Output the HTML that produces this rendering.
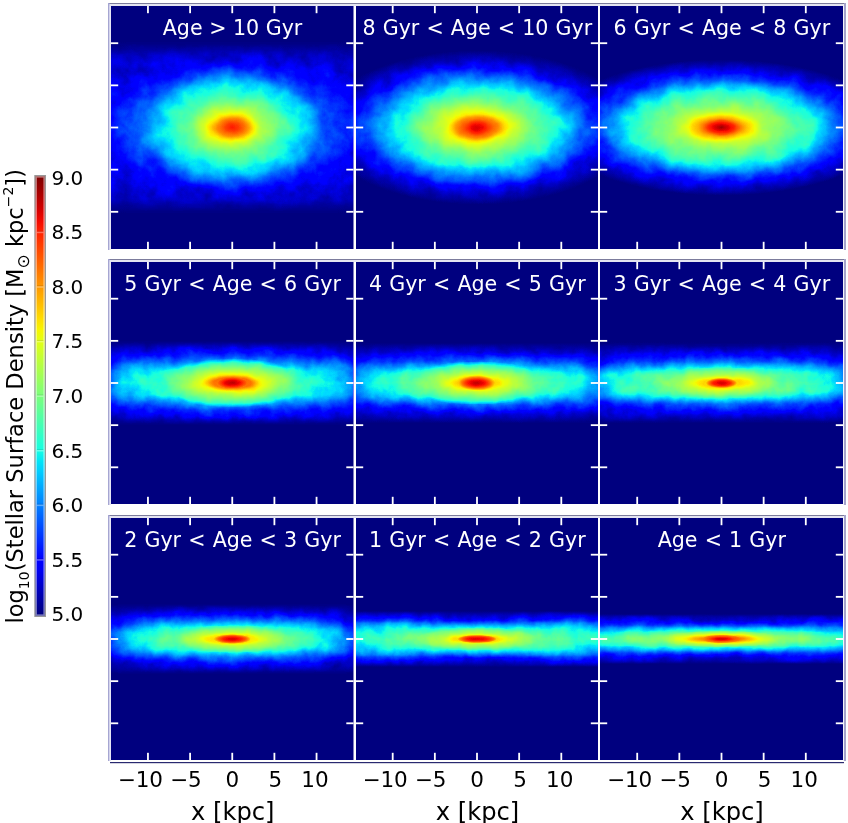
<!DOCTYPE html>
<html><head><meta charset="utf-8"><style>
html,body{margin:0;padding:0;background:#fff;}
svg{display:block;}
text{font-family:"DejaVu Sans","Liberation Sans",sans-serif;}
.t{fill:#fff;font-size:20.6px;text-anchor:middle;}
.tk{fill:#000;font-size:21.5px;text-anchor:middle;}
.xl{fill:#000;font-size:24.2px;text-anchor:middle;}
.cb{fill:#000;font-size:20px;}
.yl{fill:#000;font-size:22.55px;}
</style></head><body>
<svg width="848" height="823" viewBox="0 0 848 823">
<defs><linearGradient id="fx0_0" gradientUnits="userSpaceOnUse" x1="92.25" y1="0" x2="372.25" y2="0"><stop offset="0.0179" stop-color="#1a0000"/><stop offset="0.0679" stop-color="#1c0000"/><stop offset="0.1071" stop-color="#1f0000"/><stop offset="0.2857" stop-color="#260000"/><stop offset="0.5000" stop-color="#290000"/><stop offset="0.7143" stop-color="#260000"/><stop offset="0.8929" stop-color="#1f0000"/><stop offset="0.9321" stop-color="#1c0000"/><stop offset="0.9821" stop-color="#1a0000"/></linearGradient>
<linearGradient id="qz0_0" gradientUnits="userSpaceOnUse" x1="0" y1="-12.50" x2="0" y2="267.50"><stop offset="0.1929" stop-color="#000000"/><stop offset="0.2036" stop-color="#000d00"/><stop offset="0.2214" stop-color="#003300"/><stop offset="0.2429" stop-color="#007300"/><stop offset="0.2679" stop-color="#009900"/><stop offset="0.3036" stop-color="#00bf00"/><stop offset="0.3571" stop-color="#00e600"/><stop offset="0.5000" stop-color="#00ff00"/><stop offset="0.6429" stop-color="#00e600"/><stop offset="0.6964" stop-color="#00bf00"/><stop offset="0.7321" stop-color="#009900"/><stop offset="0.7571" stop-color="#007300"/><stop offset="0.7786" stop-color="#003300"/><stop offset="0.7964" stop-color="#000d00"/><stop offset="0.8071" stop-color="#000000"/></linearGradient>
<filter id="dk0_0" filterUnits="userSpaceOnUse" x="111.00" y="6.00" width="242.50" height="243.00" color-interpolation-filters="sRGB"><feColorMatrix in="SourceGraphic" type="matrix" values="1 0 0 0 0 1 0 0 0 0 1 0 0 0 0 0 0 0 0 1" result="F"/><feColorMatrix in="SourceGraphic" type="matrix" values="0 1 0 0 0 0 1 0 0 0 0 1 0 0 0 0 0 0 0 1" result="Q"/><feComposite operator="arithmetic" in="F" in2="Q" k1="1.0000" k2="0.0000" k3="0.0000" k4="0.0000"/></filter>
<radialGradient id="e0_1" gradientUnits="userSpaceOnUse" cx="232.25" cy="127.50" r="130.00" gradientTransform="translate(232.25 127.50) scale(1 0.6000) translate(-232.25 -127.50)"><stop offset="0.0000" stop-color="#e0e0e0"/><stop offset="0.0500" stop-color="#d6d6d6"/><stop offset="0.1154" stop-color="#c2c2c2"/><stop offset="0.1615" stop-color="#ababab"/><stop offset="0.2154" stop-color="#999999"/><stop offset="0.3077" stop-color="#808080"/><stop offset="0.4077" stop-color="#6e6e6e"/><stop offset="0.5000" stop-color="#606060"/><stop offset="0.6154" stop-color="#4c4c4c"/><stop offset="0.7154" stop-color="#333333"/><stop offset="0.8077" stop-color="#1f1f1f"/><stop offset="0.9231" stop-color="#0d0d0d"/><stop offset="1.0000" stop-color="#000000"/></radialGradient>
<radialGradient id="e0_2" gradientUnits="userSpaceOnUse" cx="232.25" cy="127.50" r="170.00" gradientTransform="translate(232.25 127.50) scale(1 0.4500) translate(-232.25 -127.50)"><stop offset="0.0000" stop-color="#404040"/><stop offset="0.5471" stop-color="#383838"/><stop offset="0.7118" stop-color="#262626"/><stop offset="0.8235" stop-color="#141414"/><stop offset="1.0000" stop-color="#000000"/></radialGradient>
<filter id="jet0" filterUnits="userSpaceOnUse" x="111.00" y="6.00" width="242.50" height="243.00" color-interpolation-filters="sRGB">
<feTurbulence type="fractalNoise" baseFrequency="0.060" numOctaves="4" seed="3" result="tn"/>
<feColorMatrix in="tn" type="matrix" values="1 0 0 0 0 1 0 0 0 0 1 0 0 0 0 0 0 0 0 1" result="n"/>
<feComponentTransfer in="SourceGraphic" result="mask"><feFuncR type="table" tableValues="0 1 1 1 1 0.85 0.7 0.55 0.45 0.35 0.3 0.3"/><feFuncG type="table" tableValues="0 1 1 1 1 0.85 0.7 0.55 0.45 0.35 0.3 0.3"/><feFuncB type="table" tableValues="0 1 1 1 1 0.85 0.7 0.55 0.45 0.35 0.3 0.3"/></feComponentTransfer>
<feComposite operator="arithmetic" in="mask" in2="n" k1="1" k2="-0.5" k3="0" k4="0.5" result="mkn"/>
<feComposite operator="arithmetic" in="SourceGraphic" in2="mkn" k1="0" k2="1" k3="0.130" k4="-0.065" result="mn"/>
<feComponentTransfer in="mn"><feFuncR type="table" tableValues="0.0000 0.0000 0.0000 0.0000 0.0000 0.0000 0.0000 0.0000 0.0000 0.0000 0.0000 0.0000 0.0000 0.0000 0.0000 0.0000 0.0000 0.0000 0.0000 0.0000 0.0000 0.0000 0.0000 0.0000 0.0000 0.0000 0.0000 0.0000 0.0000 0.0000 0.0000 0.0000 0.0000 0.0000 0.0000 0.0000 0.0000 0.0000 0.0000 0.0000 0.0000 0.0000 0.0000 0.0000 0.0000 0.0000 0.0000 0.0000 0.0000 0.0000 0.0000 0.0000 0.0000 0.0000 0.0000 0.0000 0.0000 0.0000 0.0000 0.0000 0.0000 0.0000 0.0000 0.0000 0.0000 0.0000 0.0000 0.0000 0.0000 0.0000 0.0000 0.0161 0.0323 0.0484 0.0645 0.0806 0.0968 0.1129 0.1290 0.1452 0.1613 0.1774 0.1935 0.2097 0.2258 0.2419 0.2581 0.2742 0.2903 0.3065 0.3226 0.3387 0.3548 0.3710 0.3871 0.4032 0.4194 0.4355 0.4516 0.4677 0.4839 0.5000 0.5161 0.5323 0.5484 0.5645 0.5806 0.5968 0.6129 0.6290 0.6452 0.6613 0.6774 0.6935 0.7097 0.7258 0.7419 0.7581 0.7742 0.7903 0.8065 0.8226 0.8387 0.8548 0.8710 0.8871 0.9032 0.9194 0.9355 0.9516 0.9677 0.9839 1.0000 1.0000 1.0000 1.0000 1.0000 1.0000 1.0000 1.0000 1.0000 1.0000 1.0000 1.0000 1.0000 1.0000 1.0000 1.0000 1.0000 1.0000 1.0000 1.0000 1.0000 1.0000 1.0000 1.0000 1.0000 1.0000 1.0000 1.0000 1.0000 1.0000 1.0000 1.0000 1.0000 1.0000 1.0000 1.0000 1.0000 1.0000 1.0000 1.0000 1.0000 1.0000 1.0000 1.0000 1.0000 1.0000 1.0000 0.9773 0.9545 0.9318 0.9091 0.8864 0.8636 0.8409 0.8182 0.7955 0.7727 0.7500 0.7273 0.7045 0.6818 0.6591 0.6364 0.6136 0.5909 0.5682 0.5455 0.5227 0.5000"/><feFuncG type="table" tableValues="0.0000 0.0000 0.0000 0.0000 0.0000 0.0000 0.0000 0.0000 0.0000 0.0000 0.0000 0.0000 0.0000 0.0000 0.0000 0.0000 0.0000 0.0000 0.0000 0.0000 0.0000 0.0000 0.0000 0.0000 0.0000 0.0000 0.0200 0.0400 0.0600 0.0800 0.1000 0.1200 0.1400 0.1600 0.1800 0.2000 0.2200 0.2400 0.2600 0.2800 0.3000 0.3200 0.3400 0.3600 0.3800 0.4000 0.4200 0.4400 0.4600 0.4800 0.5000 0.5200 0.5400 0.5600 0.5800 0.6000 0.6200 0.6400 0.6600 0.6800 0.7000 0.7200 0.7400 0.7600 0.7800 0.8000 0.8200 0.8400 0.8600 0.8800 0.9000 0.9200 0.9400 0.9600 0.9800 1.0000 1.0000 1.0000 1.0000 1.0000 1.0000 1.0000 1.0000 1.0000 1.0000 1.0000 1.0000 1.0000 1.0000 1.0000 1.0000 1.0000 1.0000 1.0000 1.0000 1.0000 1.0000 1.0000 1.0000 1.0000 1.0000 1.0000 1.0000 1.0000 1.0000 1.0000 1.0000 1.0000 1.0000 1.0000 1.0000 1.0000 1.0000 1.0000 1.0000 1.0000 1.0000 1.0000 1.0000 1.0000 1.0000 1.0000 1.0000 1.0000 1.0000 1.0000 1.0000 1.0000 1.0000 0.9815 0.9630 0.9444 0.9259 0.9074 0.8889 0.8704 0.8519 0.8333 0.8148 0.7963 0.7778 0.7593 0.7407 0.7222 0.7037 0.6852 0.6667 0.6481 0.6296 0.6111 0.5926 0.5741 0.5556 0.5370 0.5185 0.5000 0.4815 0.4630 0.4444 0.4259 0.4074 0.3889 0.3704 0.3519 0.3333 0.3148 0.2963 0.2778 0.2593 0.2407 0.2222 0.2037 0.1852 0.1667 0.1481 0.1296 0.1111 0.0926 0.0741 0.0556 0.0370 0.0185 0.0000 0.0000 0.0000 0.0000 0.0000 0.0000 0.0000 0.0000 0.0000 0.0000 0.0000 0.0000 0.0000 0.0000 0.0000 0.0000 0.0000 0.0000 0.0000"/><feFuncB type="table" tableValues="0.5000 0.5227 0.5455 0.5682 0.5909 0.6136 0.6364 0.6591 0.6818 0.7045 0.7273 0.7500 0.7727 0.7955 0.8182 0.8409 0.8636 0.8864 0.9091 0.9318 0.9545 0.9773 1.0000 1.0000 1.0000 1.0000 1.0000 1.0000 1.0000 1.0000 1.0000 1.0000 1.0000 1.0000 1.0000 1.0000 1.0000 1.0000 1.0000 1.0000 1.0000 1.0000 1.0000 1.0000 1.0000 1.0000 1.0000 1.0000 1.0000 1.0000 1.0000 1.0000 1.0000 1.0000 1.0000 1.0000 1.0000 1.0000 1.0000 1.0000 1.0000 1.0000 1.0000 1.0000 1.0000 1.0000 1.0000 1.0000 1.0000 0.9839 0.9677 0.9516 0.9355 0.9194 0.9032 0.8871 0.8710 0.8548 0.8387 0.8226 0.8065 0.7903 0.7742 0.7581 0.7419 0.7258 0.7097 0.6935 0.6774 0.6613 0.6452 0.6290 0.6129 0.5968 0.5806 0.5645 0.5484 0.5323 0.5161 0.5000 0.4839 0.4677 0.4516 0.4355 0.4194 0.4032 0.3871 0.3710 0.3548 0.3387 0.3226 0.3065 0.2903 0.2742 0.2581 0.2419 0.2258 0.2097 0.1935 0.1774 0.1613 0.1452 0.1290 0.1129 0.0968 0.0806 0.0645 0.0484 0.0323 0.0161 0.0000 0.0000 0.0000 0.0000 0.0000 0.0000 0.0000 0.0000 0.0000 0.0000 0.0000 0.0000 0.0000 0.0000 0.0000 0.0000 0.0000 0.0000 0.0000 0.0000 0.0000 0.0000 0.0000 0.0000 0.0000 0.0000 0.0000 0.0000 0.0000 0.0000 0.0000 0.0000 0.0000 0.0000 0.0000 0.0000 0.0000 0.0000 0.0000 0.0000 0.0000 0.0000 0.0000 0.0000 0.0000 0.0000 0.0000 0.0000 0.0000 0.0000 0.0000 0.0000 0.0000 0.0000 0.0000 0.0000 0.0000 0.0000 0.0000 0.0000 0.0000 0.0000 0.0000 0.0000 0.0000 0.0000 0.0000 0.0000 0.0000 0.0000 0.0000"/><feFuncA type="identity"/></feComponentTransfer>
</filter>
<radialGradient id="e1_0" gradientUnits="userSpaceOnUse" cx="477.00" cy="127.50" r="157.00" gradientTransform="translate(477.00 127.50) scale(1 0.4900) translate(-477.00 -127.50)"><stop offset="0.0000" stop-color="#ebebeb"/><stop offset="0.0541" stop-color="#e0e0e0"/><stop offset="0.0892" stop-color="#d1d1d1"/><stop offset="0.1338" stop-color="#c2c2c2"/><stop offset="0.1783" stop-color="#a8a8a8"/><stop offset="0.2548" stop-color="#949494"/><stop offset="0.3376" stop-color="#808080"/><stop offset="0.4268" stop-color="#6e6e6e"/><stop offset="0.5096" stop-color="#606060"/><stop offset="0.5924" stop-color="#4c4c4c"/><stop offset="0.7006" stop-color="#333333"/><stop offset="0.7771" stop-color="#1f1f1f"/><stop offset="0.8917" stop-color="#0d0d0d"/><stop offset="1.0000" stop-color="#000000"/></radialGradient>
<radialGradient id="e1_1" gradientUnits="userSpaceOnUse" cx="477.00" cy="127.50" r="30.00" gradientTransform="translate(477.00 127.50) scale(1 0.6000) translate(-477.00 -127.50)"><stop offset="0.0000" stop-color="#ebebeb"/><stop offset="0.2000" stop-color="#e6e6e6"/><stop offset="0.3333" stop-color="#dbdbdb"/><stop offset="0.4667" stop-color="#cccccc"/><stop offset="0.6667" stop-color="#999999"/><stop offset="1.0000" stop-color="#000000"/></radialGradient>
<radialGradient id="e1_2" gradientUnits="userSpaceOnUse" cx="477.00" cy="127.50" r="170.00" gradientTransform="translate(477.00 127.50) scale(1 0.4000) translate(-477.00 -127.50)"><stop offset="0.0000" stop-color="#333333"/><stop offset="0.6471" stop-color="#303030"/><stop offset="0.7118" stop-color="#292929"/><stop offset="0.8235" stop-color="#141414"/><stop offset="1.0000" stop-color="#000000"/></radialGradient>
<filter id="jet1" filterUnits="userSpaceOnUse" x="356.00" y="6.00" width="242.00" height="243.00" color-interpolation-filters="sRGB">
<feTurbulence type="fractalNoise" baseFrequency="0.060" numOctaves="4" seed="4" result="tn"/>
<feColorMatrix in="tn" type="matrix" values="1 0 0 0 0 1 0 0 0 0 1 0 0 0 0 0 0 0 0 1" result="n"/>
<feComponentTransfer in="SourceGraphic" result="mask"><feFuncR type="table" tableValues="0 1 1 1 1 0.85 0.7 0.55 0.45 0.35 0.3 0.3"/><feFuncG type="table" tableValues="0 1 1 1 1 0.85 0.7 0.55 0.45 0.35 0.3 0.3"/><feFuncB type="table" tableValues="0 1 1 1 1 0.85 0.7 0.55 0.45 0.35 0.3 0.3"/></feComponentTransfer>
<feComposite operator="arithmetic" in="mask" in2="n" k1="1" k2="-0.5" k3="0" k4="0.5" result="mkn"/>
<feComposite operator="arithmetic" in="SourceGraphic" in2="mkn" k1="0" k2="1" k3="0.130" k4="-0.065" result="mn"/>
<feComponentTransfer in="mn"><feFuncR type="table" tableValues="0.0000 0.0000 0.0000 0.0000 0.0000 0.0000 0.0000 0.0000 0.0000 0.0000 0.0000 0.0000 0.0000 0.0000 0.0000 0.0000 0.0000 0.0000 0.0000 0.0000 0.0000 0.0000 0.0000 0.0000 0.0000 0.0000 0.0000 0.0000 0.0000 0.0000 0.0000 0.0000 0.0000 0.0000 0.0000 0.0000 0.0000 0.0000 0.0000 0.0000 0.0000 0.0000 0.0000 0.0000 0.0000 0.0000 0.0000 0.0000 0.0000 0.0000 0.0000 0.0000 0.0000 0.0000 0.0000 0.0000 0.0000 0.0000 0.0000 0.0000 0.0000 0.0000 0.0000 0.0000 0.0000 0.0000 0.0000 0.0000 0.0000 0.0000 0.0000 0.0161 0.0323 0.0484 0.0645 0.0806 0.0968 0.1129 0.1290 0.1452 0.1613 0.1774 0.1935 0.2097 0.2258 0.2419 0.2581 0.2742 0.2903 0.3065 0.3226 0.3387 0.3548 0.3710 0.3871 0.4032 0.4194 0.4355 0.4516 0.4677 0.4839 0.5000 0.5161 0.5323 0.5484 0.5645 0.5806 0.5968 0.6129 0.6290 0.6452 0.6613 0.6774 0.6935 0.7097 0.7258 0.7419 0.7581 0.7742 0.7903 0.8065 0.8226 0.8387 0.8548 0.8710 0.8871 0.9032 0.9194 0.9355 0.9516 0.9677 0.9839 1.0000 1.0000 1.0000 1.0000 1.0000 1.0000 1.0000 1.0000 1.0000 1.0000 1.0000 1.0000 1.0000 1.0000 1.0000 1.0000 1.0000 1.0000 1.0000 1.0000 1.0000 1.0000 1.0000 1.0000 1.0000 1.0000 1.0000 1.0000 1.0000 1.0000 1.0000 1.0000 1.0000 1.0000 1.0000 1.0000 1.0000 1.0000 1.0000 1.0000 1.0000 1.0000 1.0000 1.0000 1.0000 1.0000 1.0000 0.9773 0.9545 0.9318 0.9091 0.8864 0.8636 0.8409 0.8182 0.7955 0.7727 0.7500 0.7273 0.7045 0.6818 0.6591 0.6364 0.6136 0.5909 0.5682 0.5455 0.5227 0.5000"/><feFuncG type="table" tableValues="0.0000 0.0000 0.0000 0.0000 0.0000 0.0000 0.0000 0.0000 0.0000 0.0000 0.0000 0.0000 0.0000 0.0000 0.0000 0.0000 0.0000 0.0000 0.0000 0.0000 0.0000 0.0000 0.0000 0.0000 0.0000 0.0000 0.0200 0.0400 0.0600 0.0800 0.1000 0.1200 0.1400 0.1600 0.1800 0.2000 0.2200 0.2400 0.2600 0.2800 0.3000 0.3200 0.3400 0.3600 0.3800 0.4000 0.4200 0.4400 0.4600 0.4800 0.5000 0.5200 0.5400 0.5600 0.5800 0.6000 0.6200 0.6400 0.6600 0.6800 0.7000 0.7200 0.7400 0.7600 0.7800 0.8000 0.8200 0.8400 0.8600 0.8800 0.9000 0.9200 0.9400 0.9600 0.9800 1.0000 1.0000 1.0000 1.0000 1.0000 1.0000 1.0000 1.0000 1.0000 1.0000 1.0000 1.0000 1.0000 1.0000 1.0000 1.0000 1.0000 1.0000 1.0000 1.0000 1.0000 1.0000 1.0000 1.0000 1.0000 1.0000 1.0000 1.0000 1.0000 1.0000 1.0000 1.0000 1.0000 1.0000 1.0000 1.0000 1.0000 1.0000 1.0000 1.0000 1.0000 1.0000 1.0000 1.0000 1.0000 1.0000 1.0000 1.0000 1.0000 1.0000 1.0000 1.0000 1.0000 1.0000 0.9815 0.9630 0.9444 0.9259 0.9074 0.8889 0.8704 0.8519 0.8333 0.8148 0.7963 0.7778 0.7593 0.7407 0.7222 0.7037 0.6852 0.6667 0.6481 0.6296 0.6111 0.5926 0.5741 0.5556 0.5370 0.5185 0.5000 0.4815 0.4630 0.4444 0.4259 0.4074 0.3889 0.3704 0.3519 0.3333 0.3148 0.2963 0.2778 0.2593 0.2407 0.2222 0.2037 0.1852 0.1667 0.1481 0.1296 0.1111 0.0926 0.0741 0.0556 0.0370 0.0185 0.0000 0.0000 0.0000 0.0000 0.0000 0.0000 0.0000 0.0000 0.0000 0.0000 0.0000 0.0000 0.0000 0.0000 0.0000 0.0000 0.0000 0.0000 0.0000"/><feFuncB type="table" tableValues="0.5000 0.5227 0.5455 0.5682 0.5909 0.6136 0.6364 0.6591 0.6818 0.7045 0.7273 0.7500 0.7727 0.7955 0.8182 0.8409 0.8636 0.8864 0.9091 0.9318 0.9545 0.9773 1.0000 1.0000 1.0000 1.0000 1.0000 1.0000 1.0000 1.0000 1.0000 1.0000 1.0000 1.0000 1.0000 1.0000 1.0000 1.0000 1.0000 1.0000 1.0000 1.0000 1.0000 1.0000 1.0000 1.0000 1.0000 1.0000 1.0000 1.0000 1.0000 1.0000 1.0000 1.0000 1.0000 1.0000 1.0000 1.0000 1.0000 1.0000 1.0000 1.0000 1.0000 1.0000 1.0000 1.0000 1.0000 1.0000 1.0000 0.9839 0.9677 0.9516 0.9355 0.9194 0.9032 0.8871 0.8710 0.8548 0.8387 0.8226 0.8065 0.7903 0.7742 0.7581 0.7419 0.7258 0.7097 0.6935 0.6774 0.6613 0.6452 0.6290 0.6129 0.5968 0.5806 0.5645 0.5484 0.5323 0.5161 0.5000 0.4839 0.4677 0.4516 0.4355 0.4194 0.4032 0.3871 0.3710 0.3548 0.3387 0.3226 0.3065 0.2903 0.2742 0.2581 0.2419 0.2258 0.2097 0.1935 0.1774 0.1613 0.1452 0.1290 0.1129 0.0968 0.0806 0.0645 0.0484 0.0323 0.0161 0.0000 0.0000 0.0000 0.0000 0.0000 0.0000 0.0000 0.0000 0.0000 0.0000 0.0000 0.0000 0.0000 0.0000 0.0000 0.0000 0.0000 0.0000 0.0000 0.0000 0.0000 0.0000 0.0000 0.0000 0.0000 0.0000 0.0000 0.0000 0.0000 0.0000 0.0000 0.0000 0.0000 0.0000 0.0000 0.0000 0.0000 0.0000 0.0000 0.0000 0.0000 0.0000 0.0000 0.0000 0.0000 0.0000 0.0000 0.0000 0.0000 0.0000 0.0000 0.0000 0.0000 0.0000 0.0000 0.0000 0.0000 0.0000 0.0000 0.0000 0.0000 0.0000 0.0000 0.0000 0.0000 0.0000 0.0000 0.0000 0.0000 0.0000 0.0000"/><feFuncA type="identity"/></feComponentTransfer>
</filter>
<radialGradient id="e2_0" gradientUnits="userSpaceOnUse" cx="721.50" cy="127.50" r="170.00" gradientTransform="translate(721.50 127.50) scale(1 0.4000) translate(-721.50 -127.50)"><stop offset="0.0000" stop-color="#f7f7f7"/><stop offset="0.0253" stop-color="#ededed"/><stop offset="0.0765" stop-color="#dedede"/><stop offset="0.1118" stop-color="#c7c7c7"/><stop offset="0.1412" stop-color="#b8b8b8"/><stop offset="0.1824" stop-color="#a8a8a8"/><stop offset="0.2412" stop-color="#949494"/><stop offset="0.3529" stop-color="#808080"/><stop offset="0.4647" stop-color="#6e6e6e"/><stop offset="0.5471" stop-color="#606060"/><stop offset="0.6235" stop-color="#4c4c4c"/><stop offset="0.7118" stop-color="#333333"/><stop offset="0.8059" stop-color="#1f1f1f"/><stop offset="0.9118" stop-color="#0d0d0d"/><stop offset="1.0000" stop-color="#000000"/></radialGradient>
<radialGradient id="e2_1" gradientUnits="userSpaceOnUse" cx="721.50" cy="127.50" r="32.00" gradientTransform="translate(721.50 127.50) scale(1 0.5500) translate(-721.50 -127.50)"><stop offset="0.0000" stop-color="#f7f7f7"/><stop offset="0.1250" stop-color="#ededed"/><stop offset="0.2500" stop-color="#e0e0e0"/><stop offset="0.4062" stop-color="#d1d1d1"/><stop offset="0.5625" stop-color="#b2b2b2"/><stop offset="0.7812" stop-color="#666666"/><stop offset="1.0000" stop-color="#000000"/></radialGradient>
<radialGradient id="e2_2" gradientUnits="userSpaceOnUse" cx="721.50" cy="127.50" r="175.00" gradientTransform="translate(721.50 127.50) scale(1 0.3500) translate(-721.50 -127.50)"><stop offset="0.0000" stop-color="#404040"/><stop offset="0.6286" stop-color="#3b3b3b"/><stop offset="0.6914" stop-color="#333333"/><stop offset="0.8000" stop-color="#1a1a1a"/><stop offset="1.0000" stop-color="#000000"/></radialGradient>
<filter id="jet2" filterUnits="userSpaceOnUse" x="600.00" y="6.00" width="243.00" height="243.00" color-interpolation-filters="sRGB">
<feTurbulence type="fractalNoise" baseFrequency="0.060" numOctaves="4" seed="5" result="tn"/>
<feColorMatrix in="tn" type="matrix" values="1 0 0 0 0 1 0 0 0 0 1 0 0 0 0 0 0 0 0 1" result="n"/>
<feComponentTransfer in="SourceGraphic" result="mask"><feFuncR type="table" tableValues="0 1 1 1 1 0.85 0.7 0.55 0.45 0.35 0.3 0.3"/><feFuncG type="table" tableValues="0 1 1 1 1 0.85 0.7 0.55 0.45 0.35 0.3 0.3"/><feFuncB type="table" tableValues="0 1 1 1 1 0.85 0.7 0.55 0.45 0.35 0.3 0.3"/></feComponentTransfer>
<feComposite operator="arithmetic" in="mask" in2="n" k1="1" k2="-0.5" k3="0" k4="0.5" result="mkn"/>
<feComposite operator="arithmetic" in="SourceGraphic" in2="mkn" k1="0" k2="1" k3="0.130" k4="-0.065" result="mn"/>
<feComponentTransfer in="mn"><feFuncR type="table" tableValues="0.0000 0.0000 0.0000 0.0000 0.0000 0.0000 0.0000 0.0000 0.0000 0.0000 0.0000 0.0000 0.0000 0.0000 0.0000 0.0000 0.0000 0.0000 0.0000 0.0000 0.0000 0.0000 0.0000 0.0000 0.0000 0.0000 0.0000 0.0000 0.0000 0.0000 0.0000 0.0000 0.0000 0.0000 0.0000 0.0000 0.0000 0.0000 0.0000 0.0000 0.0000 0.0000 0.0000 0.0000 0.0000 0.0000 0.0000 0.0000 0.0000 0.0000 0.0000 0.0000 0.0000 0.0000 0.0000 0.0000 0.0000 0.0000 0.0000 0.0000 0.0000 0.0000 0.0000 0.0000 0.0000 0.0000 0.0000 0.0000 0.0000 0.0000 0.0000 0.0161 0.0323 0.0484 0.0645 0.0806 0.0968 0.1129 0.1290 0.1452 0.1613 0.1774 0.1935 0.2097 0.2258 0.2419 0.2581 0.2742 0.2903 0.3065 0.3226 0.3387 0.3548 0.3710 0.3871 0.4032 0.4194 0.4355 0.4516 0.4677 0.4839 0.5000 0.5161 0.5323 0.5484 0.5645 0.5806 0.5968 0.6129 0.6290 0.6452 0.6613 0.6774 0.6935 0.7097 0.7258 0.7419 0.7581 0.7742 0.7903 0.8065 0.8226 0.8387 0.8548 0.8710 0.8871 0.9032 0.9194 0.9355 0.9516 0.9677 0.9839 1.0000 1.0000 1.0000 1.0000 1.0000 1.0000 1.0000 1.0000 1.0000 1.0000 1.0000 1.0000 1.0000 1.0000 1.0000 1.0000 1.0000 1.0000 1.0000 1.0000 1.0000 1.0000 1.0000 1.0000 1.0000 1.0000 1.0000 1.0000 1.0000 1.0000 1.0000 1.0000 1.0000 1.0000 1.0000 1.0000 1.0000 1.0000 1.0000 1.0000 1.0000 1.0000 1.0000 1.0000 1.0000 1.0000 1.0000 0.9773 0.9545 0.9318 0.9091 0.8864 0.8636 0.8409 0.8182 0.7955 0.7727 0.7500 0.7273 0.7045 0.6818 0.6591 0.6364 0.6136 0.5909 0.5682 0.5455 0.5227 0.5000"/><feFuncG type="table" tableValues="0.0000 0.0000 0.0000 0.0000 0.0000 0.0000 0.0000 0.0000 0.0000 0.0000 0.0000 0.0000 0.0000 0.0000 0.0000 0.0000 0.0000 0.0000 0.0000 0.0000 0.0000 0.0000 0.0000 0.0000 0.0000 0.0000 0.0200 0.0400 0.0600 0.0800 0.1000 0.1200 0.1400 0.1600 0.1800 0.2000 0.2200 0.2400 0.2600 0.2800 0.3000 0.3200 0.3400 0.3600 0.3800 0.4000 0.4200 0.4400 0.4600 0.4800 0.5000 0.5200 0.5400 0.5600 0.5800 0.6000 0.6200 0.6400 0.6600 0.6800 0.7000 0.7200 0.7400 0.7600 0.7800 0.8000 0.8200 0.8400 0.8600 0.8800 0.9000 0.9200 0.9400 0.9600 0.9800 1.0000 1.0000 1.0000 1.0000 1.0000 1.0000 1.0000 1.0000 1.0000 1.0000 1.0000 1.0000 1.0000 1.0000 1.0000 1.0000 1.0000 1.0000 1.0000 1.0000 1.0000 1.0000 1.0000 1.0000 1.0000 1.0000 1.0000 1.0000 1.0000 1.0000 1.0000 1.0000 1.0000 1.0000 1.0000 1.0000 1.0000 1.0000 1.0000 1.0000 1.0000 1.0000 1.0000 1.0000 1.0000 1.0000 1.0000 1.0000 1.0000 1.0000 1.0000 1.0000 1.0000 1.0000 0.9815 0.9630 0.9444 0.9259 0.9074 0.8889 0.8704 0.8519 0.8333 0.8148 0.7963 0.7778 0.7593 0.7407 0.7222 0.7037 0.6852 0.6667 0.6481 0.6296 0.6111 0.5926 0.5741 0.5556 0.5370 0.5185 0.5000 0.4815 0.4630 0.4444 0.4259 0.4074 0.3889 0.3704 0.3519 0.3333 0.3148 0.2963 0.2778 0.2593 0.2407 0.2222 0.2037 0.1852 0.1667 0.1481 0.1296 0.1111 0.0926 0.0741 0.0556 0.0370 0.0185 0.0000 0.0000 0.0000 0.0000 0.0000 0.0000 0.0000 0.0000 0.0000 0.0000 0.0000 0.0000 0.0000 0.0000 0.0000 0.0000 0.0000 0.0000 0.0000"/><feFuncB type="table" tableValues="0.5000 0.5227 0.5455 0.5682 0.5909 0.6136 0.6364 0.6591 0.6818 0.7045 0.7273 0.7500 0.7727 0.7955 0.8182 0.8409 0.8636 0.8864 0.9091 0.9318 0.9545 0.9773 1.0000 1.0000 1.0000 1.0000 1.0000 1.0000 1.0000 1.0000 1.0000 1.0000 1.0000 1.0000 1.0000 1.0000 1.0000 1.0000 1.0000 1.0000 1.0000 1.0000 1.0000 1.0000 1.0000 1.0000 1.0000 1.0000 1.0000 1.0000 1.0000 1.0000 1.0000 1.0000 1.0000 1.0000 1.0000 1.0000 1.0000 1.0000 1.0000 1.0000 1.0000 1.0000 1.0000 1.0000 1.0000 1.0000 1.0000 0.9839 0.9677 0.9516 0.9355 0.9194 0.9032 0.8871 0.8710 0.8548 0.8387 0.8226 0.8065 0.7903 0.7742 0.7581 0.7419 0.7258 0.7097 0.6935 0.6774 0.6613 0.6452 0.6290 0.6129 0.5968 0.5806 0.5645 0.5484 0.5323 0.5161 0.5000 0.4839 0.4677 0.4516 0.4355 0.4194 0.4032 0.3871 0.3710 0.3548 0.3387 0.3226 0.3065 0.2903 0.2742 0.2581 0.2419 0.2258 0.2097 0.1935 0.1774 0.1613 0.1452 0.1290 0.1129 0.0968 0.0806 0.0645 0.0484 0.0323 0.0161 0.0000 0.0000 0.0000 0.0000 0.0000 0.0000 0.0000 0.0000 0.0000 0.0000 0.0000 0.0000 0.0000 0.0000 0.0000 0.0000 0.0000 0.0000 0.0000 0.0000 0.0000 0.0000 0.0000 0.0000 0.0000 0.0000 0.0000 0.0000 0.0000 0.0000 0.0000 0.0000 0.0000 0.0000 0.0000 0.0000 0.0000 0.0000 0.0000 0.0000 0.0000 0.0000 0.0000 0.0000 0.0000 0.0000 0.0000 0.0000 0.0000 0.0000 0.0000 0.0000 0.0000 0.0000 0.0000 0.0000 0.0000 0.0000 0.0000 0.0000 0.0000 0.0000 0.0000 0.0000 0.0000 0.0000 0.0000 0.0000 0.0000 0.0000 0.0000"/><feFuncA type="identity"/></feComponentTransfer>
</filter>
<linearGradient id="fx3_0" gradientUnits="userSpaceOnUse" x1="92.25" y1="0" x2="372.25" y2="0"><stop offset="0.0179" stop-color="#1a0000"/><stop offset="0.0679" stop-color="#2b0000"/><stop offset="0.0893" stop-color="#330000"/><stop offset="0.1464" stop-color="#4c0000"/><stop offset="0.2071" stop-color="#630000"/><stop offset="0.2536" stop-color="#6e0000"/><stop offset="0.3036" stop-color="#7a0000"/><stop offset="0.3571" stop-color="#850000"/><stop offset="0.4000" stop-color="#8c0000"/><stop offset="0.5000" stop-color="#8f0000"/><stop offset="0.6000" stop-color="#8c0000"/><stop offset="0.6429" stop-color="#850000"/><stop offset="0.6964" stop-color="#7a0000"/><stop offset="0.7464" stop-color="#6e0000"/><stop offset="0.7929" stop-color="#630000"/><stop offset="0.8536" stop-color="#4c0000"/><stop offset="0.9107" stop-color="#330000"/><stop offset="0.9321" stop-color="#2b0000"/><stop offset="0.9821" stop-color="#1a0000"/></linearGradient>
<linearGradient id="qz3_0" gradientUnits="userSpaceOnUse" x1="0" y1="243.00" x2="0" y2="523.00"><stop offset="0.3500" stop-color="#000000"/><stop offset="0.3571" stop-color="#000800"/><stop offset="0.3679" stop-color="#001a00"/><stop offset="0.3821" stop-color="#003800"/><stop offset="0.4036" stop-color="#005400"/><stop offset="0.4286" stop-color="#008c00"/><stop offset="0.4429" stop-color="#00b200"/><stop offset="0.4571" stop-color="#00df00"/><stop offset="0.4786" stop-color="#00f700"/><stop offset="0.5000" stop-color="#00ff00"/><stop offset="0.5214" stop-color="#00f700"/><stop offset="0.5429" stop-color="#00df00"/><stop offset="0.5571" stop-color="#00b200"/><stop offset="0.5714" stop-color="#008c00"/><stop offset="0.5964" stop-color="#005400"/><stop offset="0.6179" stop-color="#003800"/><stop offset="0.6321" stop-color="#001a00"/><stop offset="0.6429" stop-color="#000800"/><stop offset="0.6500" stop-color="#000000"/></linearGradient>
<filter id="dk3_0" filterUnits="userSpaceOnUse" x="111.00" y="262.00" width="242.50" height="242.00" color-interpolation-filters="sRGB"><feColorMatrix in="SourceGraphic" type="matrix" values="1 0 0 0 0 1 0 0 0 0 1 0 0 0 0 0 0 0 0 1" result="F"/><feColorMatrix in="SourceGraphic" type="matrix" values="0 1 0 0 0 0 1 0 0 0 0 1 0 0 0 0 0 0 0 1" result="Q"/><feComposite operator="arithmetic" in="F" in2="Q" k1="1.0000" k2="0.0000" k3="0.0000" k4="0.0000"/></filter>
<linearGradient id="fx3_1" gradientUnits="userSpaceOnUse" x1="92.25" y1="0" x2="372.25" y2="0"><stop offset="0.0179" stop-color="#290000"/><stop offset="0.0679" stop-color="#3d0000"/><stop offset="0.1071" stop-color="#520000"/><stop offset="0.1786" stop-color="#630000"/><stop offset="0.3214" stop-color="#540000"/><stop offset="0.5000" stop-color="#330000"/><stop offset="0.6786" stop-color="#540000"/><stop offset="0.8214" stop-color="#630000"/><stop offset="0.8929" stop-color="#520000"/><stop offset="0.9321" stop-color="#3d0000"/><stop offset="0.9821" stop-color="#290000"/></linearGradient>
<linearGradient id="qz3_1" gradientUnits="userSpaceOnUse" x1="0" y1="243.00" x2="0" y2="523.00"><stop offset="0.3500" stop-color="#000000"/><stop offset="0.3571" stop-color="#000800"/><stop offset="0.3679" stop-color="#001a00"/><stop offset="0.3821" stop-color="#003800"/><stop offset="0.4036" stop-color="#006100"/><stop offset="0.4286" stop-color="#009e00"/><stop offset="0.4429" stop-color="#00c400"/><stop offset="0.4571" stop-color="#00e600"/><stop offset="0.4786" stop-color="#00fa00"/><stop offset="0.5000" stop-color="#00ff00"/><stop offset="0.5214" stop-color="#00fa00"/><stop offset="0.5429" stop-color="#00e600"/><stop offset="0.5571" stop-color="#00c400"/><stop offset="0.5714" stop-color="#009e00"/><stop offset="0.5964" stop-color="#006100"/><stop offset="0.6179" stop-color="#003800"/><stop offset="0.6321" stop-color="#001a00"/><stop offset="0.6429" stop-color="#000800"/><stop offset="0.6500" stop-color="#000000"/></linearGradient>
<filter id="dk3_1" filterUnits="userSpaceOnUse" x="111.00" y="262.00" width="242.50" height="242.00" color-interpolation-filters="sRGB"><feColorMatrix in="SourceGraphic" type="matrix" values="1 0 0 0 0 1 0 0 0 0 1 0 0 0 0 0 0 0 0 1" result="F"/><feColorMatrix in="SourceGraphic" type="matrix" values="0 1 0 0 0 0 1 0 0 0 0 1 0 0 0 0 0 0 0 1" result="Q"/><feComposite operator="arithmetic" in="F" in2="Q" k1="1.0000" k2="0.0000" k3="0.0000" k4="0.0000"/></filter>
<radialGradient id="e3_2" gradientUnits="userSpaceOnUse" cx="232.25" cy="383.00" r="28.00" gradientTransform="translate(232.25 383.00) scale(1 0.3800) translate(-232.25 -383.00)"><stop offset="0.0000" stop-color="#f2f2f2"/><stop offset="0.3036" stop-color="#e3e3e3"/><stop offset="0.5000" stop-color="#cccccc"/><stop offset="0.7143" stop-color="#999999"/><stop offset="1.0000" stop-color="#000000"/></radialGradient>
<radialGradient id="e3_3" gradientUnits="userSpaceOnUse" cx="232.25" cy="383.00" r="100.00" gradientTransform="translate(232.25 383.00) scale(1 0.2900) translate(-232.25 -383.00)"><stop offset="0.0000" stop-color="#cccccc"/><stop offset="0.1900" stop-color="#c7c7c7"/><stop offset="0.2800" stop-color="#a8a8a8"/><stop offset="0.4000" stop-color="#949494"/><stop offset="0.5500" stop-color="#808080"/><stop offset="0.6900" stop-color="#6b6b6b"/><stop offset="0.8000" stop-color="#4c4c4c"/><stop offset="1.0000" stop-color="#000000"/></radialGradient>
<filter id="jet3" filterUnits="userSpaceOnUse" x="111.00" y="262.00" width="242.50" height="242.00" color-interpolation-filters="sRGB">
<feTurbulence type="fractalNoise" baseFrequency="0.070" numOctaves="4" seed="6" result="tn"/>
<feColorMatrix in="tn" type="matrix" values="1 0 0 0 0 1 0 0 0 0 1 0 0 0 0 0 0 0 0 1" result="n"/>
<feComponentTransfer in="SourceGraphic" result="mask"><feFuncR type="table" tableValues="0 1 1 1 1 0.85 0.7 0.55 0.45 0.35 0.3 0.3"/><feFuncG type="table" tableValues="0 1 1 1 1 0.85 0.7 0.55 0.45 0.35 0.3 0.3"/><feFuncB type="table" tableValues="0 1 1 1 1 0.85 0.7 0.55 0.45 0.35 0.3 0.3"/></feComponentTransfer>
<feComposite operator="arithmetic" in="mask" in2="n" k1="1" k2="-0.5" k3="0" k4="0.5" result="mkn"/>
<feComposite operator="arithmetic" in="SourceGraphic" in2="mkn" k1="0" k2="1" k3="0.130" k4="-0.065" result="mn"/>
<feComponentTransfer in="mn"><feFuncR type="table" tableValues="0.0000 0.0000 0.0000 0.0000 0.0000 0.0000 0.0000 0.0000 0.0000 0.0000 0.0000 0.0000 0.0000 0.0000 0.0000 0.0000 0.0000 0.0000 0.0000 0.0000 0.0000 0.0000 0.0000 0.0000 0.0000 0.0000 0.0000 0.0000 0.0000 0.0000 0.0000 0.0000 0.0000 0.0000 0.0000 0.0000 0.0000 0.0000 0.0000 0.0000 0.0000 0.0000 0.0000 0.0000 0.0000 0.0000 0.0000 0.0000 0.0000 0.0000 0.0000 0.0000 0.0000 0.0000 0.0000 0.0000 0.0000 0.0000 0.0000 0.0000 0.0000 0.0000 0.0000 0.0000 0.0000 0.0000 0.0000 0.0000 0.0000 0.0000 0.0000 0.0161 0.0323 0.0484 0.0645 0.0806 0.0968 0.1129 0.1290 0.1452 0.1613 0.1774 0.1935 0.2097 0.2258 0.2419 0.2581 0.2742 0.2903 0.3065 0.3226 0.3387 0.3548 0.3710 0.3871 0.4032 0.4194 0.4355 0.4516 0.4677 0.4839 0.5000 0.5161 0.5323 0.5484 0.5645 0.5806 0.5968 0.6129 0.6290 0.6452 0.6613 0.6774 0.6935 0.7097 0.7258 0.7419 0.7581 0.7742 0.7903 0.8065 0.8226 0.8387 0.8548 0.8710 0.8871 0.9032 0.9194 0.9355 0.9516 0.9677 0.9839 1.0000 1.0000 1.0000 1.0000 1.0000 1.0000 1.0000 1.0000 1.0000 1.0000 1.0000 1.0000 1.0000 1.0000 1.0000 1.0000 1.0000 1.0000 1.0000 1.0000 1.0000 1.0000 1.0000 1.0000 1.0000 1.0000 1.0000 1.0000 1.0000 1.0000 1.0000 1.0000 1.0000 1.0000 1.0000 1.0000 1.0000 1.0000 1.0000 1.0000 1.0000 1.0000 1.0000 1.0000 1.0000 1.0000 1.0000 0.9773 0.9545 0.9318 0.9091 0.8864 0.8636 0.8409 0.8182 0.7955 0.7727 0.7500 0.7273 0.7045 0.6818 0.6591 0.6364 0.6136 0.5909 0.5682 0.5455 0.5227 0.5000"/><feFuncG type="table" tableValues="0.0000 0.0000 0.0000 0.0000 0.0000 0.0000 0.0000 0.0000 0.0000 0.0000 0.0000 0.0000 0.0000 0.0000 0.0000 0.0000 0.0000 0.0000 0.0000 0.0000 0.0000 0.0000 0.0000 0.0000 0.0000 0.0000 0.0200 0.0400 0.0600 0.0800 0.1000 0.1200 0.1400 0.1600 0.1800 0.2000 0.2200 0.2400 0.2600 0.2800 0.3000 0.3200 0.3400 0.3600 0.3800 0.4000 0.4200 0.4400 0.4600 0.4800 0.5000 0.5200 0.5400 0.5600 0.5800 0.6000 0.6200 0.6400 0.6600 0.6800 0.7000 0.7200 0.7400 0.7600 0.7800 0.8000 0.8200 0.8400 0.8600 0.8800 0.9000 0.9200 0.9400 0.9600 0.9800 1.0000 1.0000 1.0000 1.0000 1.0000 1.0000 1.0000 1.0000 1.0000 1.0000 1.0000 1.0000 1.0000 1.0000 1.0000 1.0000 1.0000 1.0000 1.0000 1.0000 1.0000 1.0000 1.0000 1.0000 1.0000 1.0000 1.0000 1.0000 1.0000 1.0000 1.0000 1.0000 1.0000 1.0000 1.0000 1.0000 1.0000 1.0000 1.0000 1.0000 1.0000 1.0000 1.0000 1.0000 1.0000 1.0000 1.0000 1.0000 1.0000 1.0000 1.0000 1.0000 1.0000 1.0000 0.9815 0.9630 0.9444 0.9259 0.9074 0.8889 0.8704 0.8519 0.8333 0.8148 0.7963 0.7778 0.7593 0.7407 0.7222 0.7037 0.6852 0.6667 0.6481 0.6296 0.6111 0.5926 0.5741 0.5556 0.5370 0.5185 0.5000 0.4815 0.4630 0.4444 0.4259 0.4074 0.3889 0.3704 0.3519 0.3333 0.3148 0.2963 0.2778 0.2593 0.2407 0.2222 0.2037 0.1852 0.1667 0.1481 0.1296 0.1111 0.0926 0.0741 0.0556 0.0370 0.0185 0.0000 0.0000 0.0000 0.0000 0.0000 0.0000 0.0000 0.0000 0.0000 0.0000 0.0000 0.0000 0.0000 0.0000 0.0000 0.0000 0.0000 0.0000 0.0000"/><feFuncB type="table" tableValues="0.5000 0.5227 0.5455 0.5682 0.5909 0.6136 0.6364 0.6591 0.6818 0.7045 0.7273 0.7500 0.7727 0.7955 0.8182 0.8409 0.8636 0.8864 0.9091 0.9318 0.9545 0.9773 1.0000 1.0000 1.0000 1.0000 1.0000 1.0000 1.0000 1.0000 1.0000 1.0000 1.0000 1.0000 1.0000 1.0000 1.0000 1.0000 1.0000 1.0000 1.0000 1.0000 1.0000 1.0000 1.0000 1.0000 1.0000 1.0000 1.0000 1.0000 1.0000 1.0000 1.0000 1.0000 1.0000 1.0000 1.0000 1.0000 1.0000 1.0000 1.0000 1.0000 1.0000 1.0000 1.0000 1.0000 1.0000 1.0000 1.0000 0.9839 0.9677 0.9516 0.9355 0.9194 0.9032 0.8871 0.8710 0.8548 0.8387 0.8226 0.8065 0.7903 0.7742 0.7581 0.7419 0.7258 0.7097 0.6935 0.6774 0.6613 0.6452 0.6290 0.6129 0.5968 0.5806 0.5645 0.5484 0.5323 0.5161 0.5000 0.4839 0.4677 0.4516 0.4355 0.4194 0.4032 0.3871 0.3710 0.3548 0.3387 0.3226 0.3065 0.2903 0.2742 0.2581 0.2419 0.2258 0.2097 0.1935 0.1774 0.1613 0.1452 0.1290 0.1129 0.0968 0.0806 0.0645 0.0484 0.0323 0.0161 0.0000 0.0000 0.0000 0.0000 0.0000 0.0000 0.0000 0.0000 0.0000 0.0000 0.0000 0.0000 0.0000 0.0000 0.0000 0.0000 0.0000 0.0000 0.0000 0.0000 0.0000 0.0000 0.0000 0.0000 0.0000 0.0000 0.0000 0.0000 0.0000 0.0000 0.0000 0.0000 0.0000 0.0000 0.0000 0.0000 0.0000 0.0000 0.0000 0.0000 0.0000 0.0000 0.0000 0.0000 0.0000 0.0000 0.0000 0.0000 0.0000 0.0000 0.0000 0.0000 0.0000 0.0000 0.0000 0.0000 0.0000 0.0000 0.0000 0.0000 0.0000 0.0000 0.0000 0.0000 0.0000 0.0000 0.0000 0.0000 0.0000 0.0000 0.0000"/><feFuncA type="identity"/></feComponentTransfer>
</filter>
<linearGradient id="fx4_0" gradientUnits="userSpaceOnUse" x1="337.00" y1="0" x2="617.00" y2="0"><stop offset="0.0179" stop-color="#290000"/><stop offset="0.0679" stop-color="#3d0000"/><stop offset="0.1143" stop-color="#520000"/><stop offset="0.1607" stop-color="#630000"/><stop offset="0.2321" stop-color="#700000"/><stop offset="0.3107" stop-color="#7d0000"/><stop offset="0.5000" stop-color="#8f0000"/><stop offset="0.6893" stop-color="#7d0000"/><stop offset="0.7679" stop-color="#700000"/><stop offset="0.8393" stop-color="#630000"/><stop offset="0.8857" stop-color="#520000"/><stop offset="0.9321" stop-color="#3d0000"/><stop offset="0.9821" stop-color="#290000"/></linearGradient>
<linearGradient id="qz4_0" gradientUnits="userSpaceOnUse" x1="0" y1="243.00" x2="0" y2="523.00"><stop offset="0.3571" stop-color="#000000"/><stop offset="0.3679" stop-color="#000d00"/><stop offset="0.3893" stop-color="#002900"/><stop offset="0.4036" stop-color="#004700"/><stop offset="0.4214" stop-color="#006b00"/><stop offset="0.4357" stop-color="#009400"/><stop offset="0.4500" stop-color="#00bd00"/><stop offset="0.4643" stop-color="#00de00"/><stop offset="0.4821" stop-color="#00f700"/><stop offset="0.5000" stop-color="#00ff00"/><stop offset="0.5179" stop-color="#00f700"/><stop offset="0.5357" stop-color="#00de00"/><stop offset="0.5500" stop-color="#00bd00"/><stop offset="0.5643" stop-color="#009400"/><stop offset="0.5786" stop-color="#006b00"/><stop offset="0.5964" stop-color="#004700"/><stop offset="0.6107" stop-color="#002900"/><stop offset="0.6321" stop-color="#000d00"/><stop offset="0.6429" stop-color="#000000"/></linearGradient>
<filter id="dk4_0" filterUnits="userSpaceOnUse" x="356.00" y="262.00" width="242.00" height="242.00" color-interpolation-filters="sRGB"><feColorMatrix in="SourceGraphic" type="matrix" values="1 0 0 0 0 1 0 0 0 0 1 0 0 0 0 0 0 0 0 1" result="F"/><feColorMatrix in="SourceGraphic" type="matrix" values="0 1 0 0 0 0 1 0 0 0 0 1 0 0 0 0 0 0 0 1" result="Q"/><feComposite operator="arithmetic" in="F" in2="Q" k1="1.0000" k2="0.0000" k3="0.0000" k4="0.0000"/></filter>
<linearGradient id="fx4_1" gradientUnits="userSpaceOnUse" x1="337.00" y1="0" x2="617.00" y2="0"><stop offset="0.0179" stop-color="#330000"/><stop offset="0.0679" stop-color="#470000"/><stop offset="0.1250" stop-color="#5e0000"/><stop offset="0.1964" stop-color="#6b0000"/><stop offset="0.3214" stop-color="#5c0000"/><stop offset="0.5000" stop-color="#330000"/><stop offset="0.6786" stop-color="#5c0000"/><stop offset="0.8036" stop-color="#6b0000"/><stop offset="0.8750" stop-color="#5e0000"/><stop offset="0.9321" stop-color="#470000"/><stop offset="0.9821" stop-color="#330000"/></linearGradient>
<linearGradient id="qz4_1" gradientUnits="userSpaceOnUse" x1="0" y1="243.00" x2="0" y2="523.00"><stop offset="0.3571" stop-color="#000000"/><stop offset="0.3679" stop-color="#000d00"/><stop offset="0.3893" stop-color="#002b00"/><stop offset="0.4036" stop-color="#004a00"/><stop offset="0.4214" stop-color="#007000"/><stop offset="0.4357" stop-color="#009900"/><stop offset="0.4500" stop-color="#00c200"/><stop offset="0.4643" stop-color="#00e000"/><stop offset="0.4821" stop-color="#00f700"/><stop offset="0.5000" stop-color="#00ff00"/><stop offset="0.5179" stop-color="#00f700"/><stop offset="0.5357" stop-color="#00e000"/><stop offset="0.5500" stop-color="#00c200"/><stop offset="0.5643" stop-color="#009900"/><stop offset="0.5786" stop-color="#007000"/><stop offset="0.5964" stop-color="#004a00"/><stop offset="0.6107" stop-color="#002b00"/><stop offset="0.6321" stop-color="#000d00"/><stop offset="0.6429" stop-color="#000000"/></linearGradient>
<filter id="dk4_1" filterUnits="userSpaceOnUse" x="356.00" y="262.00" width="242.00" height="242.00" color-interpolation-filters="sRGB"><feColorMatrix in="SourceGraphic" type="matrix" values="1 0 0 0 0 1 0 0 0 0 1 0 0 0 0 0 0 0 0 1" result="F"/><feColorMatrix in="SourceGraphic" type="matrix" values="0 1 0 0 0 0 1 0 0 0 0 1 0 0 0 0 0 0 0 1" result="Q"/><feComposite operator="arithmetic" in="F" in2="Q" k1="1.0000" k2="0.0000" k3="0.0000" k4="0.0000"/></filter>
<radialGradient id="e4_2" gradientUnits="userSpaceOnUse" cx="477.00" cy="383.00" r="30.00" gradientTransform="translate(477.00 383.00) scale(1 0.3700) translate(-477.00 -383.00)"><stop offset="0.0000" stop-color="#f2f2f2"/><stop offset="0.1333" stop-color="#ebebeb"/><stop offset="0.2833" stop-color="#e3e3e3"/><stop offset="0.4000" stop-color="#d4d4d4"/><stop offset="0.5333" stop-color="#bfbfbf"/><stop offset="0.7333" stop-color="#999999"/><stop offset="1.0000" stop-color="#000000"/></radialGradient>
<radialGradient id="e4_3" gradientUnits="userSpaceOnUse" cx="477.00" cy="383.00" r="95.00" gradientTransform="translate(477.00 383.00) scale(1 0.2600) translate(-477.00 -383.00)"><stop offset="0.0000" stop-color="#b8b8b8"/><stop offset="0.1895" stop-color="#b2b2b2"/><stop offset="0.2526" stop-color="#a8a8a8"/><stop offset="0.3789" stop-color="#949494"/><stop offset="0.5579" stop-color="#808080"/><stop offset="0.7158" stop-color="#6b6b6b"/><stop offset="0.8421" stop-color="#4c4c4c"/><stop offset="1.0000" stop-color="#000000"/></radialGradient>
<filter id="jet4" filterUnits="userSpaceOnUse" x="356.00" y="262.00" width="242.00" height="242.00" color-interpolation-filters="sRGB">
<feTurbulence type="fractalNoise" baseFrequency="0.070" numOctaves="4" seed="7" result="tn"/>
<feColorMatrix in="tn" type="matrix" values="1 0 0 0 0 1 0 0 0 0 1 0 0 0 0 0 0 0 0 1" result="n"/>
<feComponentTransfer in="SourceGraphic" result="mask"><feFuncR type="table" tableValues="0 1 1 1 1 0.85 0.7 0.55 0.45 0.35 0.3 0.3"/><feFuncG type="table" tableValues="0 1 1 1 1 0.85 0.7 0.55 0.45 0.35 0.3 0.3"/><feFuncB type="table" tableValues="0 1 1 1 1 0.85 0.7 0.55 0.45 0.35 0.3 0.3"/></feComponentTransfer>
<feComposite operator="arithmetic" in="mask" in2="n" k1="1" k2="-0.5" k3="0" k4="0.5" result="mkn"/>
<feComposite operator="arithmetic" in="SourceGraphic" in2="mkn" k1="0" k2="1" k3="0.130" k4="-0.065" result="mn"/>
<feComponentTransfer in="mn"><feFuncR type="table" tableValues="0.0000 0.0000 0.0000 0.0000 0.0000 0.0000 0.0000 0.0000 0.0000 0.0000 0.0000 0.0000 0.0000 0.0000 0.0000 0.0000 0.0000 0.0000 0.0000 0.0000 0.0000 0.0000 0.0000 0.0000 0.0000 0.0000 0.0000 0.0000 0.0000 0.0000 0.0000 0.0000 0.0000 0.0000 0.0000 0.0000 0.0000 0.0000 0.0000 0.0000 0.0000 0.0000 0.0000 0.0000 0.0000 0.0000 0.0000 0.0000 0.0000 0.0000 0.0000 0.0000 0.0000 0.0000 0.0000 0.0000 0.0000 0.0000 0.0000 0.0000 0.0000 0.0000 0.0000 0.0000 0.0000 0.0000 0.0000 0.0000 0.0000 0.0000 0.0000 0.0161 0.0323 0.0484 0.0645 0.0806 0.0968 0.1129 0.1290 0.1452 0.1613 0.1774 0.1935 0.2097 0.2258 0.2419 0.2581 0.2742 0.2903 0.3065 0.3226 0.3387 0.3548 0.3710 0.3871 0.4032 0.4194 0.4355 0.4516 0.4677 0.4839 0.5000 0.5161 0.5323 0.5484 0.5645 0.5806 0.5968 0.6129 0.6290 0.6452 0.6613 0.6774 0.6935 0.7097 0.7258 0.7419 0.7581 0.7742 0.7903 0.8065 0.8226 0.8387 0.8548 0.8710 0.8871 0.9032 0.9194 0.9355 0.9516 0.9677 0.9839 1.0000 1.0000 1.0000 1.0000 1.0000 1.0000 1.0000 1.0000 1.0000 1.0000 1.0000 1.0000 1.0000 1.0000 1.0000 1.0000 1.0000 1.0000 1.0000 1.0000 1.0000 1.0000 1.0000 1.0000 1.0000 1.0000 1.0000 1.0000 1.0000 1.0000 1.0000 1.0000 1.0000 1.0000 1.0000 1.0000 1.0000 1.0000 1.0000 1.0000 1.0000 1.0000 1.0000 1.0000 1.0000 1.0000 1.0000 0.9773 0.9545 0.9318 0.9091 0.8864 0.8636 0.8409 0.8182 0.7955 0.7727 0.7500 0.7273 0.7045 0.6818 0.6591 0.6364 0.6136 0.5909 0.5682 0.5455 0.5227 0.5000"/><feFuncG type="table" tableValues="0.0000 0.0000 0.0000 0.0000 0.0000 0.0000 0.0000 0.0000 0.0000 0.0000 0.0000 0.0000 0.0000 0.0000 0.0000 0.0000 0.0000 0.0000 0.0000 0.0000 0.0000 0.0000 0.0000 0.0000 0.0000 0.0000 0.0200 0.0400 0.0600 0.0800 0.1000 0.1200 0.1400 0.1600 0.1800 0.2000 0.2200 0.2400 0.2600 0.2800 0.3000 0.3200 0.3400 0.3600 0.3800 0.4000 0.4200 0.4400 0.4600 0.4800 0.5000 0.5200 0.5400 0.5600 0.5800 0.6000 0.6200 0.6400 0.6600 0.6800 0.7000 0.7200 0.7400 0.7600 0.7800 0.8000 0.8200 0.8400 0.8600 0.8800 0.9000 0.9200 0.9400 0.9600 0.9800 1.0000 1.0000 1.0000 1.0000 1.0000 1.0000 1.0000 1.0000 1.0000 1.0000 1.0000 1.0000 1.0000 1.0000 1.0000 1.0000 1.0000 1.0000 1.0000 1.0000 1.0000 1.0000 1.0000 1.0000 1.0000 1.0000 1.0000 1.0000 1.0000 1.0000 1.0000 1.0000 1.0000 1.0000 1.0000 1.0000 1.0000 1.0000 1.0000 1.0000 1.0000 1.0000 1.0000 1.0000 1.0000 1.0000 1.0000 1.0000 1.0000 1.0000 1.0000 1.0000 1.0000 1.0000 0.9815 0.9630 0.9444 0.9259 0.9074 0.8889 0.8704 0.8519 0.8333 0.8148 0.7963 0.7778 0.7593 0.7407 0.7222 0.7037 0.6852 0.6667 0.6481 0.6296 0.6111 0.5926 0.5741 0.5556 0.5370 0.5185 0.5000 0.4815 0.4630 0.4444 0.4259 0.4074 0.3889 0.3704 0.3519 0.3333 0.3148 0.2963 0.2778 0.2593 0.2407 0.2222 0.2037 0.1852 0.1667 0.1481 0.1296 0.1111 0.0926 0.0741 0.0556 0.0370 0.0185 0.0000 0.0000 0.0000 0.0000 0.0000 0.0000 0.0000 0.0000 0.0000 0.0000 0.0000 0.0000 0.0000 0.0000 0.0000 0.0000 0.0000 0.0000 0.0000"/><feFuncB type="table" tableValues="0.5000 0.5227 0.5455 0.5682 0.5909 0.6136 0.6364 0.6591 0.6818 0.7045 0.7273 0.7500 0.7727 0.7955 0.8182 0.8409 0.8636 0.8864 0.9091 0.9318 0.9545 0.9773 1.0000 1.0000 1.0000 1.0000 1.0000 1.0000 1.0000 1.0000 1.0000 1.0000 1.0000 1.0000 1.0000 1.0000 1.0000 1.0000 1.0000 1.0000 1.0000 1.0000 1.0000 1.0000 1.0000 1.0000 1.0000 1.0000 1.0000 1.0000 1.0000 1.0000 1.0000 1.0000 1.0000 1.0000 1.0000 1.0000 1.0000 1.0000 1.0000 1.0000 1.0000 1.0000 1.0000 1.0000 1.0000 1.0000 1.0000 0.9839 0.9677 0.9516 0.9355 0.9194 0.9032 0.8871 0.8710 0.8548 0.8387 0.8226 0.8065 0.7903 0.7742 0.7581 0.7419 0.7258 0.7097 0.6935 0.6774 0.6613 0.6452 0.6290 0.6129 0.5968 0.5806 0.5645 0.5484 0.5323 0.5161 0.5000 0.4839 0.4677 0.4516 0.4355 0.4194 0.4032 0.3871 0.3710 0.3548 0.3387 0.3226 0.3065 0.2903 0.2742 0.2581 0.2419 0.2258 0.2097 0.1935 0.1774 0.1613 0.1452 0.1290 0.1129 0.0968 0.0806 0.0645 0.0484 0.0323 0.0161 0.0000 0.0000 0.0000 0.0000 0.0000 0.0000 0.0000 0.0000 0.0000 0.0000 0.0000 0.0000 0.0000 0.0000 0.0000 0.0000 0.0000 0.0000 0.0000 0.0000 0.0000 0.0000 0.0000 0.0000 0.0000 0.0000 0.0000 0.0000 0.0000 0.0000 0.0000 0.0000 0.0000 0.0000 0.0000 0.0000 0.0000 0.0000 0.0000 0.0000 0.0000 0.0000 0.0000 0.0000 0.0000 0.0000 0.0000 0.0000 0.0000 0.0000 0.0000 0.0000 0.0000 0.0000 0.0000 0.0000 0.0000 0.0000 0.0000 0.0000 0.0000 0.0000 0.0000 0.0000 0.0000 0.0000 0.0000 0.0000 0.0000 0.0000 0.0000"/><feFuncA type="identity"/></feComponentTransfer>
</filter>
<linearGradient id="fx5_0" gradientUnits="userSpaceOnUse" x1="581.50" y1="0" x2="861.50" y2="0"><stop offset="0.0179" stop-color="#260000"/><stop offset="0.0679" stop-color="#380000"/><stop offset="0.1214" stop-color="#4f0000"/><stop offset="0.1607" stop-color="#610000"/><stop offset="0.2250" stop-color="#700000"/><stop offset="0.3071" stop-color="#7d0000"/><stop offset="0.5000" stop-color="#8f0000"/><stop offset="0.6929" stop-color="#7d0000"/><stop offset="0.7750" stop-color="#700000"/><stop offset="0.8393" stop-color="#610000"/><stop offset="0.8786" stop-color="#4f0000"/><stop offset="0.9321" stop-color="#380000"/><stop offset="0.9821" stop-color="#260000"/></linearGradient>
<linearGradient id="qz5_0" gradientUnits="userSpaceOnUse" x1="0" y1="243.00" x2="0" y2="523.00"><stop offset="0.3571" stop-color="#000000"/><stop offset="0.3679" stop-color="#000a00"/><stop offset="0.3821" stop-color="#002100"/><stop offset="0.4036" stop-color="#004200"/><stop offset="0.4250" stop-color="#006b00"/><stop offset="0.4429" stop-color="#00a600"/><stop offset="0.4607" stop-color="#00de00"/><stop offset="0.4714" stop-color="#00f500"/><stop offset="0.4857" stop-color="#00fc00"/><stop offset="0.5000" stop-color="#00ff00"/><stop offset="0.5143" stop-color="#00fc00"/><stop offset="0.5286" stop-color="#00f500"/><stop offset="0.5393" stop-color="#00de00"/><stop offset="0.5571" stop-color="#00a600"/><stop offset="0.5750" stop-color="#006b00"/><stop offset="0.5964" stop-color="#004200"/><stop offset="0.6179" stop-color="#002100"/><stop offset="0.6321" stop-color="#000a00"/><stop offset="0.6429" stop-color="#000000"/></linearGradient>
<filter id="dk5_0" filterUnits="userSpaceOnUse" x="600.00" y="262.00" width="243.00" height="242.00" color-interpolation-filters="sRGB"><feColorMatrix in="SourceGraphic" type="matrix" values="1 0 0 0 0 1 0 0 0 0 1 0 0 0 0 0 0 0 0 1" result="F"/><feColorMatrix in="SourceGraphic" type="matrix" values="0 1 0 0 0 0 1 0 0 0 0 1 0 0 0 0 0 0 0 1" result="Q"/><feComposite operator="arithmetic" in="F" in2="Q" k1="1.0000" k2="0.0000" k3="0.0000" k4="0.0000"/></filter>
<linearGradient id="fx5_1" gradientUnits="userSpaceOnUse" x1="581.50" y1="0" x2="861.50" y2="0"><stop offset="0.0179" stop-color="#380000"/><stop offset="0.0679" stop-color="#4c0000"/><stop offset="0.1250" stop-color="#630000"/><stop offset="0.1964" stop-color="#6e0000"/><stop offset="0.3214" stop-color="#5c0000"/><stop offset="0.5000" stop-color="#330000"/><stop offset="0.6786" stop-color="#5c0000"/><stop offset="0.8036" stop-color="#6e0000"/><stop offset="0.8750" stop-color="#630000"/><stop offset="0.9321" stop-color="#4c0000"/><stop offset="0.9821" stop-color="#380000"/></linearGradient>
<linearGradient id="qz5_1" gradientUnits="userSpaceOnUse" x1="0" y1="243.00" x2="0" y2="523.00"><stop offset="0.3536" stop-color="#000000"/><stop offset="0.3607" stop-color="#000500"/><stop offset="0.3821" stop-color="#002900"/><stop offset="0.4036" stop-color="#004700"/><stop offset="0.4250" stop-color="#006e00"/><stop offset="0.4429" stop-color="#00a800"/><stop offset="0.4607" stop-color="#00e000"/><stop offset="0.4714" stop-color="#00f700"/><stop offset="0.4857" stop-color="#00fc00"/><stop offset="0.5000" stop-color="#00ff00"/><stop offset="0.5143" stop-color="#00fc00"/><stop offset="0.5286" stop-color="#00f700"/><stop offset="0.5393" stop-color="#00e000"/><stop offset="0.5571" stop-color="#00a800"/><stop offset="0.5750" stop-color="#006e00"/><stop offset="0.5964" stop-color="#004700"/><stop offset="0.6179" stop-color="#002900"/><stop offset="0.6393" stop-color="#000500"/><stop offset="0.6464" stop-color="#000000"/></linearGradient>
<filter id="dk5_1" filterUnits="userSpaceOnUse" x="600.00" y="262.00" width="243.00" height="242.00" color-interpolation-filters="sRGB"><feColorMatrix in="SourceGraphic" type="matrix" values="1 0 0 0 0 1 0 0 0 0 1 0 0 0 0 0 0 0 0 1" result="F"/><feColorMatrix in="SourceGraphic" type="matrix" values="0 1 0 0 0 0 1 0 0 0 0 1 0 0 0 0 0 0 0 1" result="Q"/><feComposite operator="arithmetic" in="F" in2="Q" k1="1.0000" k2="0.0000" k3="0.0000" k4="0.0000"/></filter>
<radialGradient id="e5_2" gradientUnits="userSpaceOnUse" cx="721.50" cy="383.00" r="30.00" gradientTransform="translate(721.50 383.00) scale(1 0.3100) translate(-721.50 -383.00)"><stop offset="0.0000" stop-color="#ededed"/><stop offset="0.1333" stop-color="#e8e8e8"/><stop offset="0.2867" stop-color="#e0e0e0"/><stop offset="0.4333" stop-color="#c7c7c7"/><stop offset="0.6000" stop-color="#9e9e9e"/><stop offset="0.8000" stop-color="#666666"/><stop offset="1.0000" stop-color="#000000"/></radialGradient>
<radialGradient id="e5_3" gradientUnits="userSpaceOnUse" cx="721.50" cy="383.00" r="85.00" gradientTransform="translate(721.50 383.00) scale(1 0.2200) translate(-721.50 -383.00)"><stop offset="0.0000" stop-color="#b2b2b2"/><stop offset="0.2118" stop-color="#b0b0b0"/><stop offset="0.2824" stop-color="#a8a8a8"/><stop offset="0.4235" stop-color="#949494"/><stop offset="0.6353" stop-color="#808080"/><stop offset="0.8235" stop-color="#666666"/><stop offset="1.0000" stop-color="#000000"/></radialGradient>
<filter id="jet5" filterUnits="userSpaceOnUse" x="600.00" y="262.00" width="243.00" height="242.00" color-interpolation-filters="sRGB">
<feTurbulence type="fractalNoise" baseFrequency="0.070" numOctaves="4" seed="8" result="tn"/>
<feColorMatrix in="tn" type="matrix" values="1 0 0 0 0 1 0 0 0 0 1 0 0 0 0 0 0 0 0 1" result="n"/>
<feComponentTransfer in="SourceGraphic" result="mask"><feFuncR type="table" tableValues="0 1 1 1 1 0.85 0.7 0.55 0.45 0.35 0.3 0.3"/><feFuncG type="table" tableValues="0 1 1 1 1 0.85 0.7 0.55 0.45 0.35 0.3 0.3"/><feFuncB type="table" tableValues="0 1 1 1 1 0.85 0.7 0.55 0.45 0.35 0.3 0.3"/></feComponentTransfer>
<feComposite operator="arithmetic" in="mask" in2="n" k1="1" k2="-0.5" k3="0" k4="0.5" result="mkn"/>
<feComposite operator="arithmetic" in="SourceGraphic" in2="mkn" k1="0" k2="1" k3="0.130" k4="-0.065" result="mn"/>
<feComponentTransfer in="mn"><feFuncR type="table" tableValues="0.0000 0.0000 0.0000 0.0000 0.0000 0.0000 0.0000 0.0000 0.0000 0.0000 0.0000 0.0000 0.0000 0.0000 0.0000 0.0000 0.0000 0.0000 0.0000 0.0000 0.0000 0.0000 0.0000 0.0000 0.0000 0.0000 0.0000 0.0000 0.0000 0.0000 0.0000 0.0000 0.0000 0.0000 0.0000 0.0000 0.0000 0.0000 0.0000 0.0000 0.0000 0.0000 0.0000 0.0000 0.0000 0.0000 0.0000 0.0000 0.0000 0.0000 0.0000 0.0000 0.0000 0.0000 0.0000 0.0000 0.0000 0.0000 0.0000 0.0000 0.0000 0.0000 0.0000 0.0000 0.0000 0.0000 0.0000 0.0000 0.0000 0.0000 0.0000 0.0161 0.0323 0.0484 0.0645 0.0806 0.0968 0.1129 0.1290 0.1452 0.1613 0.1774 0.1935 0.2097 0.2258 0.2419 0.2581 0.2742 0.2903 0.3065 0.3226 0.3387 0.3548 0.3710 0.3871 0.4032 0.4194 0.4355 0.4516 0.4677 0.4839 0.5000 0.5161 0.5323 0.5484 0.5645 0.5806 0.5968 0.6129 0.6290 0.6452 0.6613 0.6774 0.6935 0.7097 0.7258 0.7419 0.7581 0.7742 0.7903 0.8065 0.8226 0.8387 0.8548 0.8710 0.8871 0.9032 0.9194 0.9355 0.9516 0.9677 0.9839 1.0000 1.0000 1.0000 1.0000 1.0000 1.0000 1.0000 1.0000 1.0000 1.0000 1.0000 1.0000 1.0000 1.0000 1.0000 1.0000 1.0000 1.0000 1.0000 1.0000 1.0000 1.0000 1.0000 1.0000 1.0000 1.0000 1.0000 1.0000 1.0000 1.0000 1.0000 1.0000 1.0000 1.0000 1.0000 1.0000 1.0000 1.0000 1.0000 1.0000 1.0000 1.0000 1.0000 1.0000 1.0000 1.0000 1.0000 0.9773 0.9545 0.9318 0.9091 0.8864 0.8636 0.8409 0.8182 0.7955 0.7727 0.7500 0.7273 0.7045 0.6818 0.6591 0.6364 0.6136 0.5909 0.5682 0.5455 0.5227 0.5000"/><feFuncG type="table" tableValues="0.0000 0.0000 0.0000 0.0000 0.0000 0.0000 0.0000 0.0000 0.0000 0.0000 0.0000 0.0000 0.0000 0.0000 0.0000 0.0000 0.0000 0.0000 0.0000 0.0000 0.0000 0.0000 0.0000 0.0000 0.0000 0.0000 0.0200 0.0400 0.0600 0.0800 0.1000 0.1200 0.1400 0.1600 0.1800 0.2000 0.2200 0.2400 0.2600 0.2800 0.3000 0.3200 0.3400 0.3600 0.3800 0.4000 0.4200 0.4400 0.4600 0.4800 0.5000 0.5200 0.5400 0.5600 0.5800 0.6000 0.6200 0.6400 0.6600 0.6800 0.7000 0.7200 0.7400 0.7600 0.7800 0.8000 0.8200 0.8400 0.8600 0.8800 0.9000 0.9200 0.9400 0.9600 0.9800 1.0000 1.0000 1.0000 1.0000 1.0000 1.0000 1.0000 1.0000 1.0000 1.0000 1.0000 1.0000 1.0000 1.0000 1.0000 1.0000 1.0000 1.0000 1.0000 1.0000 1.0000 1.0000 1.0000 1.0000 1.0000 1.0000 1.0000 1.0000 1.0000 1.0000 1.0000 1.0000 1.0000 1.0000 1.0000 1.0000 1.0000 1.0000 1.0000 1.0000 1.0000 1.0000 1.0000 1.0000 1.0000 1.0000 1.0000 1.0000 1.0000 1.0000 1.0000 1.0000 1.0000 1.0000 0.9815 0.9630 0.9444 0.9259 0.9074 0.8889 0.8704 0.8519 0.8333 0.8148 0.7963 0.7778 0.7593 0.7407 0.7222 0.7037 0.6852 0.6667 0.6481 0.6296 0.6111 0.5926 0.5741 0.5556 0.5370 0.5185 0.5000 0.4815 0.4630 0.4444 0.4259 0.4074 0.3889 0.3704 0.3519 0.3333 0.3148 0.2963 0.2778 0.2593 0.2407 0.2222 0.2037 0.1852 0.1667 0.1481 0.1296 0.1111 0.0926 0.0741 0.0556 0.0370 0.0185 0.0000 0.0000 0.0000 0.0000 0.0000 0.0000 0.0000 0.0000 0.0000 0.0000 0.0000 0.0000 0.0000 0.0000 0.0000 0.0000 0.0000 0.0000 0.0000"/><feFuncB type="table" tableValues="0.5000 0.5227 0.5455 0.5682 0.5909 0.6136 0.6364 0.6591 0.6818 0.7045 0.7273 0.7500 0.7727 0.7955 0.8182 0.8409 0.8636 0.8864 0.9091 0.9318 0.9545 0.9773 1.0000 1.0000 1.0000 1.0000 1.0000 1.0000 1.0000 1.0000 1.0000 1.0000 1.0000 1.0000 1.0000 1.0000 1.0000 1.0000 1.0000 1.0000 1.0000 1.0000 1.0000 1.0000 1.0000 1.0000 1.0000 1.0000 1.0000 1.0000 1.0000 1.0000 1.0000 1.0000 1.0000 1.0000 1.0000 1.0000 1.0000 1.0000 1.0000 1.0000 1.0000 1.0000 1.0000 1.0000 1.0000 1.0000 1.0000 0.9839 0.9677 0.9516 0.9355 0.9194 0.9032 0.8871 0.8710 0.8548 0.8387 0.8226 0.8065 0.7903 0.7742 0.7581 0.7419 0.7258 0.7097 0.6935 0.6774 0.6613 0.6452 0.6290 0.6129 0.5968 0.5806 0.5645 0.5484 0.5323 0.5161 0.5000 0.4839 0.4677 0.4516 0.4355 0.4194 0.4032 0.3871 0.3710 0.3548 0.3387 0.3226 0.3065 0.2903 0.2742 0.2581 0.2419 0.2258 0.2097 0.1935 0.1774 0.1613 0.1452 0.1290 0.1129 0.0968 0.0806 0.0645 0.0484 0.0323 0.0161 0.0000 0.0000 0.0000 0.0000 0.0000 0.0000 0.0000 0.0000 0.0000 0.0000 0.0000 0.0000 0.0000 0.0000 0.0000 0.0000 0.0000 0.0000 0.0000 0.0000 0.0000 0.0000 0.0000 0.0000 0.0000 0.0000 0.0000 0.0000 0.0000 0.0000 0.0000 0.0000 0.0000 0.0000 0.0000 0.0000 0.0000 0.0000 0.0000 0.0000 0.0000 0.0000 0.0000 0.0000 0.0000 0.0000 0.0000 0.0000 0.0000 0.0000 0.0000 0.0000 0.0000 0.0000 0.0000 0.0000 0.0000 0.0000 0.0000 0.0000 0.0000 0.0000 0.0000 0.0000 0.0000 0.0000 0.0000 0.0000 0.0000 0.0000 0.0000"/><feFuncA type="identity"/></feComponentTransfer>
</filter>
<linearGradient id="fx6_0" gradientUnits="userSpaceOnUse" x1="92.25" y1="0" x2="372.25" y2="0"><stop offset="0.0179" stop-color="#210000"/><stop offset="0.0679" stop-color="#330000"/><stop offset="0.1071" stop-color="#470000"/><stop offset="0.1429" stop-color="#570000"/><stop offset="0.2214" stop-color="#6e0000"/><stop offset="0.3071" stop-color="#7a0000"/><stop offset="0.5000" stop-color="#870000"/><stop offset="0.6929" stop-color="#7a0000"/><stop offset="0.7786" stop-color="#6e0000"/><stop offset="0.8571" stop-color="#570000"/><stop offset="0.8929" stop-color="#470000"/><stop offset="0.9321" stop-color="#330000"/><stop offset="0.9821" stop-color="#210000"/></linearGradient>
<linearGradient id="qz6_0" gradientUnits="userSpaceOnUse" x1="0" y1="499.00" x2="0" y2="779.00"><stop offset="0.3750" stop-color="#000000"/><stop offset="0.3821" stop-color="#000800"/><stop offset="0.3929" stop-color="#001c00"/><stop offset="0.4143" stop-color="#004200"/><stop offset="0.4357" stop-color="#007800"/><stop offset="0.4500" stop-color="#00a800"/><stop offset="0.4643" stop-color="#00d900"/><stop offset="0.4768" stop-color="#00f200"/><stop offset="0.5000" stop-color="#00ff00"/><stop offset="0.5232" stop-color="#00f200"/><stop offset="0.5357" stop-color="#00d900"/><stop offset="0.5500" stop-color="#00a800"/><stop offset="0.5643" stop-color="#007800"/><stop offset="0.5857" stop-color="#004200"/><stop offset="0.6071" stop-color="#001c00"/><stop offset="0.6179" stop-color="#000800"/><stop offset="0.6250" stop-color="#000000"/></linearGradient>
<filter id="dk6_0" filterUnits="userSpaceOnUse" x="111.00" y="518.00" width="242.50" height="242.00" color-interpolation-filters="sRGB"><feColorMatrix in="SourceGraphic" type="matrix" values="1 0 0 0 0 1 0 0 0 0 1 0 0 0 0 0 0 0 0 1" result="F"/><feColorMatrix in="SourceGraphic" type="matrix" values="0 1 0 0 0 0 1 0 0 0 0 1 0 0 0 0 0 0 0 1" result="Q"/><feComposite operator="arithmetic" in="F" in2="Q" k1="1.0000" k2="0.0000" k3="0.0000" k4="0.0000"/></filter>
<radialGradient id="e6_1" gradientUnits="userSpaceOnUse" cx="232.25" cy="639.00" r="30.00" gradientTransform="translate(232.25 639.00) scale(1 0.2500) translate(-232.25 -639.00)"><stop offset="0.0000" stop-color="#ededed"/><stop offset="0.1500" stop-color="#e8e8e8"/><stop offset="0.3000" stop-color="#e0e0e0"/><stop offset="0.4667" stop-color="#cccccc"/><stop offset="0.6000" stop-color="#b2b2b2"/><stop offset="0.8000" stop-color="#666666"/><stop offset="1.0000" stop-color="#000000"/></radialGradient>
<radialGradient id="e6_2" gradientUnits="userSpaceOnUse" cx="232.25" cy="639.00" r="85.00" gradientTransform="translate(232.25 639.00) scale(1 0.1900) translate(-232.25 -639.00)"><stop offset="0.0000" stop-color="#b2b2b2"/><stop offset="0.1647" stop-color="#b0b0b0"/><stop offset="0.2941" stop-color="#a8a8a8"/><stop offset="0.4235" stop-color="#949494"/><stop offset="0.6353" stop-color="#808080"/><stop offset="0.8235" stop-color="#666666"/><stop offset="1.0000" stop-color="#000000"/></radialGradient>
<filter id="jet6" filterUnits="userSpaceOnUse" x="111.00" y="518.00" width="242.50" height="242.00" color-interpolation-filters="sRGB">
<feTurbulence type="fractalNoise" baseFrequency="0.070" numOctaves="4" seed="9" result="tn"/>
<feColorMatrix in="tn" type="matrix" values="1 0 0 0 0 1 0 0 0 0 1 0 0 0 0 0 0 0 0 1" result="n"/>
<feComponentTransfer in="SourceGraphic" result="mask"><feFuncR type="table" tableValues="0 1 1 1 1 0.85 0.7 0.55 0.45 0.35 0.3 0.3"/><feFuncG type="table" tableValues="0 1 1 1 1 0.85 0.7 0.55 0.45 0.35 0.3 0.3"/><feFuncB type="table" tableValues="0 1 1 1 1 0.85 0.7 0.55 0.45 0.35 0.3 0.3"/></feComponentTransfer>
<feComposite operator="arithmetic" in="mask" in2="n" k1="1" k2="-0.5" k3="0" k4="0.5" result="mkn"/>
<feComposite operator="arithmetic" in="SourceGraphic" in2="mkn" k1="0" k2="1" k3="0.130" k4="-0.065" result="mn"/>
<feComponentTransfer in="mn"><feFuncR type="table" tableValues="0.0000 0.0000 0.0000 0.0000 0.0000 0.0000 0.0000 0.0000 0.0000 0.0000 0.0000 0.0000 0.0000 0.0000 0.0000 0.0000 0.0000 0.0000 0.0000 0.0000 0.0000 0.0000 0.0000 0.0000 0.0000 0.0000 0.0000 0.0000 0.0000 0.0000 0.0000 0.0000 0.0000 0.0000 0.0000 0.0000 0.0000 0.0000 0.0000 0.0000 0.0000 0.0000 0.0000 0.0000 0.0000 0.0000 0.0000 0.0000 0.0000 0.0000 0.0000 0.0000 0.0000 0.0000 0.0000 0.0000 0.0000 0.0000 0.0000 0.0000 0.0000 0.0000 0.0000 0.0000 0.0000 0.0000 0.0000 0.0000 0.0000 0.0000 0.0000 0.0161 0.0323 0.0484 0.0645 0.0806 0.0968 0.1129 0.1290 0.1452 0.1613 0.1774 0.1935 0.2097 0.2258 0.2419 0.2581 0.2742 0.2903 0.3065 0.3226 0.3387 0.3548 0.3710 0.3871 0.4032 0.4194 0.4355 0.4516 0.4677 0.4839 0.5000 0.5161 0.5323 0.5484 0.5645 0.5806 0.5968 0.6129 0.6290 0.6452 0.6613 0.6774 0.6935 0.7097 0.7258 0.7419 0.7581 0.7742 0.7903 0.8065 0.8226 0.8387 0.8548 0.8710 0.8871 0.9032 0.9194 0.9355 0.9516 0.9677 0.9839 1.0000 1.0000 1.0000 1.0000 1.0000 1.0000 1.0000 1.0000 1.0000 1.0000 1.0000 1.0000 1.0000 1.0000 1.0000 1.0000 1.0000 1.0000 1.0000 1.0000 1.0000 1.0000 1.0000 1.0000 1.0000 1.0000 1.0000 1.0000 1.0000 1.0000 1.0000 1.0000 1.0000 1.0000 1.0000 1.0000 1.0000 1.0000 1.0000 1.0000 1.0000 1.0000 1.0000 1.0000 1.0000 1.0000 1.0000 0.9773 0.9545 0.9318 0.9091 0.8864 0.8636 0.8409 0.8182 0.7955 0.7727 0.7500 0.7273 0.7045 0.6818 0.6591 0.6364 0.6136 0.5909 0.5682 0.5455 0.5227 0.5000"/><feFuncG type="table" tableValues="0.0000 0.0000 0.0000 0.0000 0.0000 0.0000 0.0000 0.0000 0.0000 0.0000 0.0000 0.0000 0.0000 0.0000 0.0000 0.0000 0.0000 0.0000 0.0000 0.0000 0.0000 0.0000 0.0000 0.0000 0.0000 0.0000 0.0200 0.0400 0.0600 0.0800 0.1000 0.1200 0.1400 0.1600 0.1800 0.2000 0.2200 0.2400 0.2600 0.2800 0.3000 0.3200 0.3400 0.3600 0.3800 0.4000 0.4200 0.4400 0.4600 0.4800 0.5000 0.5200 0.5400 0.5600 0.5800 0.6000 0.6200 0.6400 0.6600 0.6800 0.7000 0.7200 0.7400 0.7600 0.7800 0.8000 0.8200 0.8400 0.8600 0.8800 0.9000 0.9200 0.9400 0.9600 0.9800 1.0000 1.0000 1.0000 1.0000 1.0000 1.0000 1.0000 1.0000 1.0000 1.0000 1.0000 1.0000 1.0000 1.0000 1.0000 1.0000 1.0000 1.0000 1.0000 1.0000 1.0000 1.0000 1.0000 1.0000 1.0000 1.0000 1.0000 1.0000 1.0000 1.0000 1.0000 1.0000 1.0000 1.0000 1.0000 1.0000 1.0000 1.0000 1.0000 1.0000 1.0000 1.0000 1.0000 1.0000 1.0000 1.0000 1.0000 1.0000 1.0000 1.0000 1.0000 1.0000 1.0000 1.0000 0.9815 0.9630 0.9444 0.9259 0.9074 0.8889 0.8704 0.8519 0.8333 0.8148 0.7963 0.7778 0.7593 0.7407 0.7222 0.7037 0.6852 0.6667 0.6481 0.6296 0.6111 0.5926 0.5741 0.5556 0.5370 0.5185 0.5000 0.4815 0.4630 0.4444 0.4259 0.4074 0.3889 0.3704 0.3519 0.3333 0.3148 0.2963 0.2778 0.2593 0.2407 0.2222 0.2037 0.1852 0.1667 0.1481 0.1296 0.1111 0.0926 0.0741 0.0556 0.0370 0.0185 0.0000 0.0000 0.0000 0.0000 0.0000 0.0000 0.0000 0.0000 0.0000 0.0000 0.0000 0.0000 0.0000 0.0000 0.0000 0.0000 0.0000 0.0000 0.0000"/><feFuncB type="table" tableValues="0.5000 0.5227 0.5455 0.5682 0.5909 0.6136 0.6364 0.6591 0.6818 0.7045 0.7273 0.7500 0.7727 0.7955 0.8182 0.8409 0.8636 0.8864 0.9091 0.9318 0.9545 0.9773 1.0000 1.0000 1.0000 1.0000 1.0000 1.0000 1.0000 1.0000 1.0000 1.0000 1.0000 1.0000 1.0000 1.0000 1.0000 1.0000 1.0000 1.0000 1.0000 1.0000 1.0000 1.0000 1.0000 1.0000 1.0000 1.0000 1.0000 1.0000 1.0000 1.0000 1.0000 1.0000 1.0000 1.0000 1.0000 1.0000 1.0000 1.0000 1.0000 1.0000 1.0000 1.0000 1.0000 1.0000 1.0000 1.0000 1.0000 0.9839 0.9677 0.9516 0.9355 0.9194 0.9032 0.8871 0.8710 0.8548 0.8387 0.8226 0.8065 0.7903 0.7742 0.7581 0.7419 0.7258 0.7097 0.6935 0.6774 0.6613 0.6452 0.6290 0.6129 0.5968 0.5806 0.5645 0.5484 0.5323 0.5161 0.5000 0.4839 0.4677 0.4516 0.4355 0.4194 0.4032 0.3871 0.3710 0.3548 0.3387 0.3226 0.3065 0.2903 0.2742 0.2581 0.2419 0.2258 0.2097 0.1935 0.1774 0.1613 0.1452 0.1290 0.1129 0.0968 0.0806 0.0645 0.0484 0.0323 0.0161 0.0000 0.0000 0.0000 0.0000 0.0000 0.0000 0.0000 0.0000 0.0000 0.0000 0.0000 0.0000 0.0000 0.0000 0.0000 0.0000 0.0000 0.0000 0.0000 0.0000 0.0000 0.0000 0.0000 0.0000 0.0000 0.0000 0.0000 0.0000 0.0000 0.0000 0.0000 0.0000 0.0000 0.0000 0.0000 0.0000 0.0000 0.0000 0.0000 0.0000 0.0000 0.0000 0.0000 0.0000 0.0000 0.0000 0.0000 0.0000 0.0000 0.0000 0.0000 0.0000 0.0000 0.0000 0.0000 0.0000 0.0000 0.0000 0.0000 0.0000 0.0000 0.0000 0.0000 0.0000 0.0000 0.0000 0.0000 0.0000 0.0000 0.0000 0.0000"/><feFuncA type="identity"/></feComponentTransfer>
</filter>
<linearGradient id="fx7_0" gradientUnits="userSpaceOnUse" x1="337.00" y1="0" x2="617.00" y2="0"><stop offset="0.0179" stop-color="#330000"/><stop offset="0.0679" stop-color="#420000"/><stop offset="0.1071" stop-color="#520000"/><stop offset="0.1321" stop-color="#600000"/><stop offset="0.1964" stop-color="#6e0000"/><stop offset="0.2893" stop-color="#800000"/><stop offset="0.5000" stop-color="#850000"/><stop offset="0.7107" stop-color="#800000"/><stop offset="0.8036" stop-color="#6e0000"/><stop offset="0.8679" stop-color="#600000"/><stop offset="0.8929" stop-color="#520000"/><stop offset="0.9321" stop-color="#420000"/><stop offset="0.9821" stop-color="#330000"/></linearGradient>
<linearGradient id="qz7_0" gradientUnits="userSpaceOnUse" x1="0" y1="499.00" x2="0" y2="779.00"><stop offset="0.4143" stop-color="#000000"/><stop offset="0.4214" stop-color="#001400"/><stop offset="0.4321" stop-color="#003800"/><stop offset="0.4411" stop-color="#006100"/><stop offset="0.4500" stop-color="#008c00"/><stop offset="0.4589" stop-color="#00b200"/><stop offset="0.4714" stop-color="#00d900"/><stop offset="0.4857" stop-color="#00f200"/><stop offset="0.5000" stop-color="#00ff00"/><stop offset="0.5143" stop-color="#00f200"/><stop offset="0.5286" stop-color="#00d900"/><stop offset="0.5411" stop-color="#00b200"/><stop offset="0.5500" stop-color="#008c00"/><stop offset="0.5589" stop-color="#006100"/><stop offset="0.5679" stop-color="#003800"/><stop offset="0.5786" stop-color="#001400"/><stop offset="0.5857" stop-color="#000000"/></linearGradient>
<filter id="dk7_0" filterUnits="userSpaceOnUse" x="356.00" y="518.00" width="242.00" height="242.00" color-interpolation-filters="sRGB"><feColorMatrix in="SourceGraphic" type="matrix" values="1 0 0 0 0 1 0 0 0 0 1 0 0 0 0 0 0 0 0 1" result="F"/><feColorMatrix in="SourceGraphic" type="matrix" values="0 1 0 0 0 0 1 0 0 0 0 1 0 0 0 0 0 0 0 1" result="Q"/><feComposite operator="arithmetic" in="F" in2="Q" k1="1.0000" k2="0.0000" k3="0.0000" k4="0.0000"/></filter>
<linearGradient id="fx7_1" gradientUnits="userSpaceOnUse" x1="337.00" y1="0" x2="617.00" y2="0"><stop offset="0.0179" stop-color="#540000"/><stop offset="0.0679" stop-color="#610000"/><stop offset="0.2143" stop-color="#780000"/><stop offset="0.3571" stop-color="#590000"/><stop offset="0.5000" stop-color="#400000"/><stop offset="0.6429" stop-color="#590000"/><stop offset="0.7857" stop-color="#780000"/><stop offset="0.9321" stop-color="#610000"/><stop offset="0.9821" stop-color="#540000"/></linearGradient>
<linearGradient id="qz7_1" gradientUnits="userSpaceOnUse" x1="0" y1="499.00" x2="0" y2="779.00"><stop offset="0.4000" stop-color="#000000"/><stop offset="0.4107" stop-color="#002100"/><stop offset="0.4214" stop-color="#004200"/><stop offset="0.4357" stop-color="#006e00"/><stop offset="0.4429" stop-color="#009900"/><stop offset="0.4536" stop-color="#00bd00"/><stop offset="0.4650" stop-color="#00d900"/><stop offset="0.4843" stop-color="#00f500"/><stop offset="0.5000" stop-color="#00ff00"/><stop offset="0.5157" stop-color="#00f500"/><stop offset="0.5350" stop-color="#00d900"/><stop offset="0.5464" stop-color="#00bd00"/><stop offset="0.5571" stop-color="#009900"/><stop offset="0.5643" stop-color="#006e00"/><stop offset="0.5786" stop-color="#004200"/><stop offset="0.5893" stop-color="#002100"/><stop offset="0.6000" stop-color="#000000"/></linearGradient>
<filter id="dk7_1" filterUnits="userSpaceOnUse" x="356.00" y="518.00" width="242.00" height="242.00" color-interpolation-filters="sRGB"><feColorMatrix in="SourceGraphic" type="matrix" values="1 0 0 0 0 1 0 0 0 0 1 0 0 0 0 0 0 0 0 1" result="F"/><feColorMatrix in="SourceGraphic" type="matrix" values="0 1 0 0 0 0 1 0 0 0 0 1 0 0 0 0 0 0 0 1" result="Q"/><feComposite operator="arithmetic" in="F" in2="Q" k1="1.0000" k2="0.0000" k3="0.0000" k4="0.0000"/></filter>
<radialGradient id="e7_2" gradientUnits="userSpaceOnUse" cx="477.00" cy="639.00" r="28.00" gradientTransform="translate(477.00 639.00) scale(1 0.2000) translate(-477.00 -639.00)"><stop offset="0.0000" stop-color="#ededed"/><stop offset="0.1786" stop-color="#e8e8e8"/><stop offset="0.3571" stop-color="#e0e0e0"/><stop offset="0.5000" stop-color="#d1d1d1"/><stop offset="0.6071" stop-color="#c4c4c4"/><stop offset="0.7857" stop-color="#999999"/><stop offset="1.0000" stop-color="#000000"/></radialGradient>
<radialGradient id="e7_3" gradientUnits="userSpaceOnUse" cx="477.00" cy="639.00" r="90.00" gradientTransform="translate(477.00 639.00) scale(1 0.1500) translate(-477.00 -639.00)"><stop offset="0.0000" stop-color="#b2b2b2"/><stop offset="0.1889" stop-color="#b0b0b0"/><stop offset="0.2778" stop-color="#a8a8a8"/><stop offset="0.4222" stop-color="#949494"/><stop offset="0.6556" stop-color="#808080"/><stop offset="0.8333" stop-color="#666666"/><stop offset="1.0000" stop-color="#000000"/></radialGradient>
<filter id="jet7" filterUnits="userSpaceOnUse" x="356.00" y="518.00" width="242.00" height="242.00" color-interpolation-filters="sRGB">
<feTurbulence type="fractalNoise" baseFrequency="0.070" numOctaves="4" seed="10" result="tn"/>
<feColorMatrix in="tn" type="matrix" values="1 0 0 0 0 1 0 0 0 0 1 0 0 0 0 0 0 0 0 1" result="n"/>
<feComponentTransfer in="SourceGraphic" result="mask"><feFuncR type="table" tableValues="0 1 1 1 1 0.85 0.7 0.55 0.45 0.35 0.3 0.3"/><feFuncG type="table" tableValues="0 1 1 1 1 0.85 0.7 0.55 0.45 0.35 0.3 0.3"/><feFuncB type="table" tableValues="0 1 1 1 1 0.85 0.7 0.55 0.45 0.35 0.3 0.3"/></feComponentTransfer>
<feComposite operator="arithmetic" in="mask" in2="n" k1="1" k2="-0.5" k3="0" k4="0.5" result="mkn"/>
<feComposite operator="arithmetic" in="SourceGraphic" in2="mkn" k1="0" k2="1" k3="0.130" k4="-0.065" result="mn"/>
<feComponentTransfer in="mn"><feFuncR type="table" tableValues="0.0000 0.0000 0.0000 0.0000 0.0000 0.0000 0.0000 0.0000 0.0000 0.0000 0.0000 0.0000 0.0000 0.0000 0.0000 0.0000 0.0000 0.0000 0.0000 0.0000 0.0000 0.0000 0.0000 0.0000 0.0000 0.0000 0.0000 0.0000 0.0000 0.0000 0.0000 0.0000 0.0000 0.0000 0.0000 0.0000 0.0000 0.0000 0.0000 0.0000 0.0000 0.0000 0.0000 0.0000 0.0000 0.0000 0.0000 0.0000 0.0000 0.0000 0.0000 0.0000 0.0000 0.0000 0.0000 0.0000 0.0000 0.0000 0.0000 0.0000 0.0000 0.0000 0.0000 0.0000 0.0000 0.0000 0.0000 0.0000 0.0000 0.0000 0.0000 0.0161 0.0323 0.0484 0.0645 0.0806 0.0968 0.1129 0.1290 0.1452 0.1613 0.1774 0.1935 0.2097 0.2258 0.2419 0.2581 0.2742 0.2903 0.3065 0.3226 0.3387 0.3548 0.3710 0.3871 0.4032 0.4194 0.4355 0.4516 0.4677 0.4839 0.5000 0.5161 0.5323 0.5484 0.5645 0.5806 0.5968 0.6129 0.6290 0.6452 0.6613 0.6774 0.6935 0.7097 0.7258 0.7419 0.7581 0.7742 0.7903 0.8065 0.8226 0.8387 0.8548 0.8710 0.8871 0.9032 0.9194 0.9355 0.9516 0.9677 0.9839 1.0000 1.0000 1.0000 1.0000 1.0000 1.0000 1.0000 1.0000 1.0000 1.0000 1.0000 1.0000 1.0000 1.0000 1.0000 1.0000 1.0000 1.0000 1.0000 1.0000 1.0000 1.0000 1.0000 1.0000 1.0000 1.0000 1.0000 1.0000 1.0000 1.0000 1.0000 1.0000 1.0000 1.0000 1.0000 1.0000 1.0000 1.0000 1.0000 1.0000 1.0000 1.0000 1.0000 1.0000 1.0000 1.0000 1.0000 0.9773 0.9545 0.9318 0.9091 0.8864 0.8636 0.8409 0.8182 0.7955 0.7727 0.7500 0.7273 0.7045 0.6818 0.6591 0.6364 0.6136 0.5909 0.5682 0.5455 0.5227 0.5000"/><feFuncG type="table" tableValues="0.0000 0.0000 0.0000 0.0000 0.0000 0.0000 0.0000 0.0000 0.0000 0.0000 0.0000 0.0000 0.0000 0.0000 0.0000 0.0000 0.0000 0.0000 0.0000 0.0000 0.0000 0.0000 0.0000 0.0000 0.0000 0.0000 0.0200 0.0400 0.0600 0.0800 0.1000 0.1200 0.1400 0.1600 0.1800 0.2000 0.2200 0.2400 0.2600 0.2800 0.3000 0.3200 0.3400 0.3600 0.3800 0.4000 0.4200 0.4400 0.4600 0.4800 0.5000 0.5200 0.5400 0.5600 0.5800 0.6000 0.6200 0.6400 0.6600 0.6800 0.7000 0.7200 0.7400 0.7600 0.7800 0.8000 0.8200 0.8400 0.8600 0.8800 0.9000 0.9200 0.9400 0.9600 0.9800 1.0000 1.0000 1.0000 1.0000 1.0000 1.0000 1.0000 1.0000 1.0000 1.0000 1.0000 1.0000 1.0000 1.0000 1.0000 1.0000 1.0000 1.0000 1.0000 1.0000 1.0000 1.0000 1.0000 1.0000 1.0000 1.0000 1.0000 1.0000 1.0000 1.0000 1.0000 1.0000 1.0000 1.0000 1.0000 1.0000 1.0000 1.0000 1.0000 1.0000 1.0000 1.0000 1.0000 1.0000 1.0000 1.0000 1.0000 1.0000 1.0000 1.0000 1.0000 1.0000 1.0000 1.0000 0.9815 0.9630 0.9444 0.9259 0.9074 0.8889 0.8704 0.8519 0.8333 0.8148 0.7963 0.7778 0.7593 0.7407 0.7222 0.7037 0.6852 0.6667 0.6481 0.6296 0.6111 0.5926 0.5741 0.5556 0.5370 0.5185 0.5000 0.4815 0.4630 0.4444 0.4259 0.4074 0.3889 0.3704 0.3519 0.3333 0.3148 0.2963 0.2778 0.2593 0.2407 0.2222 0.2037 0.1852 0.1667 0.1481 0.1296 0.1111 0.0926 0.0741 0.0556 0.0370 0.0185 0.0000 0.0000 0.0000 0.0000 0.0000 0.0000 0.0000 0.0000 0.0000 0.0000 0.0000 0.0000 0.0000 0.0000 0.0000 0.0000 0.0000 0.0000 0.0000"/><feFuncB type="table" tableValues="0.5000 0.5227 0.5455 0.5682 0.5909 0.6136 0.6364 0.6591 0.6818 0.7045 0.7273 0.7500 0.7727 0.7955 0.8182 0.8409 0.8636 0.8864 0.9091 0.9318 0.9545 0.9773 1.0000 1.0000 1.0000 1.0000 1.0000 1.0000 1.0000 1.0000 1.0000 1.0000 1.0000 1.0000 1.0000 1.0000 1.0000 1.0000 1.0000 1.0000 1.0000 1.0000 1.0000 1.0000 1.0000 1.0000 1.0000 1.0000 1.0000 1.0000 1.0000 1.0000 1.0000 1.0000 1.0000 1.0000 1.0000 1.0000 1.0000 1.0000 1.0000 1.0000 1.0000 1.0000 1.0000 1.0000 1.0000 1.0000 1.0000 0.9839 0.9677 0.9516 0.9355 0.9194 0.9032 0.8871 0.8710 0.8548 0.8387 0.8226 0.8065 0.7903 0.7742 0.7581 0.7419 0.7258 0.7097 0.6935 0.6774 0.6613 0.6452 0.6290 0.6129 0.5968 0.5806 0.5645 0.5484 0.5323 0.5161 0.5000 0.4839 0.4677 0.4516 0.4355 0.4194 0.4032 0.3871 0.3710 0.3548 0.3387 0.3226 0.3065 0.2903 0.2742 0.2581 0.2419 0.2258 0.2097 0.1935 0.1774 0.1613 0.1452 0.1290 0.1129 0.0968 0.0806 0.0645 0.0484 0.0323 0.0161 0.0000 0.0000 0.0000 0.0000 0.0000 0.0000 0.0000 0.0000 0.0000 0.0000 0.0000 0.0000 0.0000 0.0000 0.0000 0.0000 0.0000 0.0000 0.0000 0.0000 0.0000 0.0000 0.0000 0.0000 0.0000 0.0000 0.0000 0.0000 0.0000 0.0000 0.0000 0.0000 0.0000 0.0000 0.0000 0.0000 0.0000 0.0000 0.0000 0.0000 0.0000 0.0000 0.0000 0.0000 0.0000 0.0000 0.0000 0.0000 0.0000 0.0000 0.0000 0.0000 0.0000 0.0000 0.0000 0.0000 0.0000 0.0000 0.0000 0.0000 0.0000 0.0000 0.0000 0.0000 0.0000 0.0000 0.0000 0.0000 0.0000 0.0000 0.0000"/><feFuncA type="identity"/></feComponentTransfer>
</filter>
<linearGradient id="fx8_0" gradientUnits="userSpaceOnUse" x1="581.50" y1="0" x2="861.50" y2="0"><stop offset="0.0179" stop-color="#4c0000"/><stop offset="0.0893" stop-color="#5c0000"/><stop offset="0.1536" stop-color="#6e0000"/><stop offset="0.2429" stop-color="#800000"/><stop offset="0.3250" stop-color="#8c0000"/><stop offset="0.5000" stop-color="#8f0000"/><stop offset="0.6750" stop-color="#8c0000"/><stop offset="0.7571" stop-color="#800000"/><stop offset="0.8464" stop-color="#6e0000"/><stop offset="0.9107" stop-color="#5c0000"/><stop offset="0.9821" stop-color="#4c0000"/></linearGradient>
<linearGradient id="qz8_0" gradientUnits="userSpaceOnUse" x1="0" y1="499.00" x2="0" y2="779.00"><stop offset="0.4214" stop-color="#000000"/><stop offset="0.4321" stop-color="#001a00"/><stop offset="0.4429" stop-color="#003800"/><stop offset="0.4536" stop-color="#006100"/><stop offset="0.4607" stop-color="#008c00"/><stop offset="0.4679" stop-color="#00ab00"/><stop offset="0.4768" stop-color="#00d600"/><stop offset="0.4893" stop-color="#00f500"/><stop offset="0.5000" stop-color="#00ff00"/><stop offset="0.5107" stop-color="#00f500"/><stop offset="0.5232" stop-color="#00d600"/><stop offset="0.5321" stop-color="#00ab00"/><stop offset="0.5393" stop-color="#008c00"/><stop offset="0.5464" stop-color="#006100"/><stop offset="0.5571" stop-color="#003800"/><stop offset="0.5679" stop-color="#001a00"/><stop offset="0.5786" stop-color="#000000"/></linearGradient>
<filter id="dk8_0" filterUnits="userSpaceOnUse" x="600.00" y="518.00" width="243.00" height="242.00" color-interpolation-filters="sRGB"><feColorMatrix in="SourceGraphic" type="matrix" values="1 0 0 0 0 1 0 0 0 0 1 0 0 0 0 0 0 0 0 1" result="F"/><feColorMatrix in="SourceGraphic" type="matrix" values="0 1 0 0 0 0 1 0 0 0 0 1 0 0 0 0 0 0 0 1" result="Q"/><feComposite operator="arithmetic" in="F" in2="Q" k1="1.0000" k2="0.0000" k3="0.0000" k4="0.0000"/></filter>
<linearGradient id="fx8_1" gradientUnits="userSpaceOnUse" x1="581.50" y1="0" x2="861.50" y2="0"><stop offset="0.0179" stop-color="#610000"/><stop offset="0.0679" stop-color="#6b0000"/><stop offset="0.2143" stop-color="#850000"/><stop offset="0.3571" stop-color="#610000"/><stop offset="0.5000" stop-color="#400000"/><stop offset="0.6429" stop-color="#610000"/><stop offset="0.7857" stop-color="#850000"/><stop offset="0.9321" stop-color="#6b0000"/><stop offset="0.9821" stop-color="#610000"/></linearGradient>
<linearGradient id="qz8_1" gradientUnits="userSpaceOnUse" x1="0" y1="499.00" x2="0" y2="779.00"><stop offset="0.4107" stop-color="#000000"/><stop offset="0.4214" stop-color="#001f00"/><stop offset="0.4357" stop-color="#003b00"/><stop offset="0.4500" stop-color="#006100"/><stop offset="0.4607" stop-color="#009400"/><stop offset="0.4714" stop-color="#00b800"/><stop offset="0.4768" stop-color="#00d400"/><stop offset="0.4904" stop-color="#00f500"/><stop offset="0.5000" stop-color="#00ff00"/><stop offset="0.5096" stop-color="#00f500"/><stop offset="0.5232" stop-color="#00d400"/><stop offset="0.5286" stop-color="#00b800"/><stop offset="0.5393" stop-color="#009400"/><stop offset="0.5500" stop-color="#006100"/><stop offset="0.5643" stop-color="#003b00"/><stop offset="0.5786" stop-color="#001f00"/><stop offset="0.5893" stop-color="#000000"/></linearGradient>
<filter id="dk8_1" filterUnits="userSpaceOnUse" x="600.00" y="518.00" width="243.00" height="242.00" color-interpolation-filters="sRGB"><feColorMatrix in="SourceGraphic" type="matrix" values="1 0 0 0 0 1 0 0 0 0 1 0 0 0 0 0 0 0 0 1" result="F"/><feColorMatrix in="SourceGraphic" type="matrix" values="0 1 0 0 0 0 1 0 0 0 0 1 0 0 0 0 0 0 0 1" result="Q"/><feComposite operator="arithmetic" in="F" in2="Q" k1="1.0000" k2="0.0000" k3="0.0000" k4="0.0000"/></filter>
<radialGradient id="e8_2" gradientUnits="userSpaceOnUse" cx="721.50" cy="639.00" r="35.00" gradientTransform="translate(721.50 639.00) scale(1 0.1800) translate(-721.50 -639.00)"><stop offset="0.0000" stop-color="#ededed"/><stop offset="0.1143" stop-color="#e8e8e8"/><stop offset="0.2457" stop-color="#e0e0e0"/><stop offset="0.3714" stop-color="#d1d1d1"/><stop offset="0.5429" stop-color="#c4c4c4"/><stop offset="0.7429" stop-color="#999999"/><stop offset="1.0000" stop-color="#000000"/></radialGradient>
<radialGradient id="e8_3" gradientUnits="userSpaceOnUse" cx="721.50" cy="639.00" r="95.00" gradientTransform="translate(721.50 639.00) scale(1 0.1150) translate(-721.50 -639.00)"><stop offset="0.0000" stop-color="#cccccc"/><stop offset="0.2105" stop-color="#c4c4c4"/><stop offset="0.3053" stop-color="#b2b2b2"/><stop offset="0.3895" stop-color="#a6a6a6"/><stop offset="0.5158" stop-color="#949494"/><stop offset="0.6842" stop-color="#808080"/><stop offset="0.8421" stop-color="#4c4c4c"/><stop offset="1.0000" stop-color="#000000"/></radialGradient>
<filter id="jet8" filterUnits="userSpaceOnUse" x="600.00" y="518.00" width="243.00" height="242.00" color-interpolation-filters="sRGB">
<feTurbulence type="fractalNoise" baseFrequency="0.070" numOctaves="4" seed="11" result="tn"/>
<feColorMatrix in="tn" type="matrix" values="1 0 0 0 0 1 0 0 0 0 1 0 0 0 0 0 0 0 0 1" result="n"/>
<feComponentTransfer in="SourceGraphic" result="mask"><feFuncR type="table" tableValues="0 1 1 1 1 0.85 0.7 0.55 0.45 0.35 0.3 0.3"/><feFuncG type="table" tableValues="0 1 1 1 1 0.85 0.7 0.55 0.45 0.35 0.3 0.3"/><feFuncB type="table" tableValues="0 1 1 1 1 0.85 0.7 0.55 0.45 0.35 0.3 0.3"/></feComponentTransfer>
<feComposite operator="arithmetic" in="mask" in2="n" k1="1" k2="-0.5" k3="0" k4="0.5" result="mkn"/>
<feComposite operator="arithmetic" in="SourceGraphic" in2="mkn" k1="0" k2="1" k3="0.130" k4="-0.065" result="mn"/>
<feComponentTransfer in="mn"><feFuncR type="table" tableValues="0.0000 0.0000 0.0000 0.0000 0.0000 0.0000 0.0000 0.0000 0.0000 0.0000 0.0000 0.0000 0.0000 0.0000 0.0000 0.0000 0.0000 0.0000 0.0000 0.0000 0.0000 0.0000 0.0000 0.0000 0.0000 0.0000 0.0000 0.0000 0.0000 0.0000 0.0000 0.0000 0.0000 0.0000 0.0000 0.0000 0.0000 0.0000 0.0000 0.0000 0.0000 0.0000 0.0000 0.0000 0.0000 0.0000 0.0000 0.0000 0.0000 0.0000 0.0000 0.0000 0.0000 0.0000 0.0000 0.0000 0.0000 0.0000 0.0000 0.0000 0.0000 0.0000 0.0000 0.0000 0.0000 0.0000 0.0000 0.0000 0.0000 0.0000 0.0000 0.0161 0.0323 0.0484 0.0645 0.0806 0.0968 0.1129 0.1290 0.1452 0.1613 0.1774 0.1935 0.2097 0.2258 0.2419 0.2581 0.2742 0.2903 0.3065 0.3226 0.3387 0.3548 0.3710 0.3871 0.4032 0.4194 0.4355 0.4516 0.4677 0.4839 0.5000 0.5161 0.5323 0.5484 0.5645 0.5806 0.5968 0.6129 0.6290 0.6452 0.6613 0.6774 0.6935 0.7097 0.7258 0.7419 0.7581 0.7742 0.7903 0.8065 0.8226 0.8387 0.8548 0.8710 0.8871 0.9032 0.9194 0.9355 0.9516 0.9677 0.9839 1.0000 1.0000 1.0000 1.0000 1.0000 1.0000 1.0000 1.0000 1.0000 1.0000 1.0000 1.0000 1.0000 1.0000 1.0000 1.0000 1.0000 1.0000 1.0000 1.0000 1.0000 1.0000 1.0000 1.0000 1.0000 1.0000 1.0000 1.0000 1.0000 1.0000 1.0000 1.0000 1.0000 1.0000 1.0000 1.0000 1.0000 1.0000 1.0000 1.0000 1.0000 1.0000 1.0000 1.0000 1.0000 1.0000 1.0000 0.9773 0.9545 0.9318 0.9091 0.8864 0.8636 0.8409 0.8182 0.7955 0.7727 0.7500 0.7273 0.7045 0.6818 0.6591 0.6364 0.6136 0.5909 0.5682 0.5455 0.5227 0.5000"/><feFuncG type="table" tableValues="0.0000 0.0000 0.0000 0.0000 0.0000 0.0000 0.0000 0.0000 0.0000 0.0000 0.0000 0.0000 0.0000 0.0000 0.0000 0.0000 0.0000 0.0000 0.0000 0.0000 0.0000 0.0000 0.0000 0.0000 0.0000 0.0000 0.0200 0.0400 0.0600 0.0800 0.1000 0.1200 0.1400 0.1600 0.1800 0.2000 0.2200 0.2400 0.2600 0.2800 0.3000 0.3200 0.3400 0.3600 0.3800 0.4000 0.4200 0.4400 0.4600 0.4800 0.5000 0.5200 0.5400 0.5600 0.5800 0.6000 0.6200 0.6400 0.6600 0.6800 0.7000 0.7200 0.7400 0.7600 0.7800 0.8000 0.8200 0.8400 0.8600 0.8800 0.9000 0.9200 0.9400 0.9600 0.9800 1.0000 1.0000 1.0000 1.0000 1.0000 1.0000 1.0000 1.0000 1.0000 1.0000 1.0000 1.0000 1.0000 1.0000 1.0000 1.0000 1.0000 1.0000 1.0000 1.0000 1.0000 1.0000 1.0000 1.0000 1.0000 1.0000 1.0000 1.0000 1.0000 1.0000 1.0000 1.0000 1.0000 1.0000 1.0000 1.0000 1.0000 1.0000 1.0000 1.0000 1.0000 1.0000 1.0000 1.0000 1.0000 1.0000 1.0000 1.0000 1.0000 1.0000 1.0000 1.0000 1.0000 1.0000 0.9815 0.9630 0.9444 0.9259 0.9074 0.8889 0.8704 0.8519 0.8333 0.8148 0.7963 0.7778 0.7593 0.7407 0.7222 0.7037 0.6852 0.6667 0.6481 0.6296 0.6111 0.5926 0.5741 0.5556 0.5370 0.5185 0.5000 0.4815 0.4630 0.4444 0.4259 0.4074 0.3889 0.3704 0.3519 0.3333 0.3148 0.2963 0.2778 0.2593 0.2407 0.2222 0.2037 0.1852 0.1667 0.1481 0.1296 0.1111 0.0926 0.0741 0.0556 0.0370 0.0185 0.0000 0.0000 0.0000 0.0000 0.0000 0.0000 0.0000 0.0000 0.0000 0.0000 0.0000 0.0000 0.0000 0.0000 0.0000 0.0000 0.0000 0.0000 0.0000"/><feFuncB type="table" tableValues="0.5000 0.5227 0.5455 0.5682 0.5909 0.6136 0.6364 0.6591 0.6818 0.7045 0.7273 0.7500 0.7727 0.7955 0.8182 0.8409 0.8636 0.8864 0.9091 0.9318 0.9545 0.9773 1.0000 1.0000 1.0000 1.0000 1.0000 1.0000 1.0000 1.0000 1.0000 1.0000 1.0000 1.0000 1.0000 1.0000 1.0000 1.0000 1.0000 1.0000 1.0000 1.0000 1.0000 1.0000 1.0000 1.0000 1.0000 1.0000 1.0000 1.0000 1.0000 1.0000 1.0000 1.0000 1.0000 1.0000 1.0000 1.0000 1.0000 1.0000 1.0000 1.0000 1.0000 1.0000 1.0000 1.0000 1.0000 1.0000 1.0000 0.9839 0.9677 0.9516 0.9355 0.9194 0.9032 0.8871 0.8710 0.8548 0.8387 0.8226 0.8065 0.7903 0.7742 0.7581 0.7419 0.7258 0.7097 0.6935 0.6774 0.6613 0.6452 0.6290 0.6129 0.5968 0.5806 0.5645 0.5484 0.5323 0.5161 0.5000 0.4839 0.4677 0.4516 0.4355 0.4194 0.4032 0.3871 0.3710 0.3548 0.3387 0.3226 0.3065 0.2903 0.2742 0.2581 0.2419 0.2258 0.2097 0.1935 0.1774 0.1613 0.1452 0.1290 0.1129 0.0968 0.0806 0.0645 0.0484 0.0323 0.0161 0.0000 0.0000 0.0000 0.0000 0.0000 0.0000 0.0000 0.0000 0.0000 0.0000 0.0000 0.0000 0.0000 0.0000 0.0000 0.0000 0.0000 0.0000 0.0000 0.0000 0.0000 0.0000 0.0000 0.0000 0.0000 0.0000 0.0000 0.0000 0.0000 0.0000 0.0000 0.0000 0.0000 0.0000 0.0000 0.0000 0.0000 0.0000 0.0000 0.0000 0.0000 0.0000 0.0000 0.0000 0.0000 0.0000 0.0000 0.0000 0.0000 0.0000 0.0000 0.0000 0.0000 0.0000 0.0000 0.0000 0.0000 0.0000 0.0000 0.0000 0.0000 0.0000 0.0000 0.0000 0.0000 0.0000 0.0000 0.0000 0.0000 0.0000 0.0000"/><feFuncA type="identity"/></feComponentTransfer>
</filter>
<linearGradient id="cb" gradientUnits="userSpaceOnUse" x1="0" y1="177.30" x2="0" y2="614.00"><stop offset="0.0000" stop-color="#800000"/><stop offset="0.0250" stop-color="#9c0000"/><stop offset="0.0500" stop-color="#b90000"/><stop offset="0.0750" stop-color="#d60000"/><stop offset="0.1000" stop-color="#f30900"/><stop offset="0.1250" stop-color="#ff2100"/><stop offset="0.1500" stop-color="#ff3900"/><stop offset="0.1750" stop-color="#ff5000"/><stop offset="0.2000" stop-color="#ff6800"/><stop offset="0.2250" stop-color="#ff8000"/><stop offset="0.2500" stop-color="#ff9700"/><stop offset="0.2750" stop-color="#ffaf00"/><stop offset="0.3000" stop-color="#ffc600"/><stop offset="0.3250" stop-color="#ffde00"/><stop offset="0.3500" stop-color="#f7f600"/><stop offset="0.3750" stop-color="#e2ff15"/><stop offset="0.4000" stop-color="#ceff29"/><stop offset="0.4250" stop-color="#b9ff3e"/><stop offset="0.4500" stop-color="#a5ff52"/><stop offset="0.4750" stop-color="#90ff67"/><stop offset="0.5000" stop-color="#7bff7b"/><stop offset="0.5250" stop-color="#67ff90"/><stop offset="0.5500" stop-color="#52ffa5"/><stop offset="0.5750" stop-color="#3effb9"/><stop offset="0.6000" stop-color="#29ffce"/><stop offset="0.6250" stop-color="#15ffe2"/><stop offset="0.6500" stop-color="#00e5f7"/><stop offset="0.6750" stop-color="#00ccff"/><stop offset="0.7000" stop-color="#00b2ff"/><stop offset="0.7250" stop-color="#0099ff"/><stop offset="0.7500" stop-color="#0080ff"/><stop offset="0.7750" stop-color="#0066ff"/><stop offset="0.8000" stop-color="#004cff"/><stop offset="0.8250" stop-color="#0033ff"/><stop offset="0.8500" stop-color="#0019ff"/><stop offset="0.8750" stop-color="#0000ff"/><stop offset="0.9000" stop-color="#0000f3"/><stop offset="0.9250" stop-color="#0000d6"/><stop offset="0.9500" stop-color="#0000b9"/><stop offset="0.9750" stop-color="#00009c"/><stop offset="1.0000" stop-color="#000080"/></linearGradient></defs>
<rect width="848" height="823" fill="#fff"/>
<g filter="url(#jet0)"><rect x="111.00" y="6.00" width="242.50" height="243.00" fill="#000"/><g filter="url(#dk0_0)" style="mix-blend-mode:lighten"><rect x="111.00" y="6.00" width="242.50" height="243.00" fill="#000"/><rect x="111.00" y="6.00" width="242.50" height="243.00" fill="url(#fx0_0)"/><rect x="111.00" y="6.00" width="242.50" height="243.00" fill="url(#qz0_0)" style="mix-blend-mode:lighten"/></g><rect x="111.00" y="6.00" width="242.50" height="243.00" fill="url(#e0_1)" style="mix-blend-mode:lighten"/><rect x="111.00" y="6.00" width="242.50" height="243.00" fill="url(#e0_2)" style="mix-blend-mode:lighten"/></g>
<g filter="url(#jet1)"><rect x="356.00" y="6.00" width="242.00" height="243.00" fill="#000"/><rect x="356.00" y="6.00" width="242.00" height="243.00" fill="url(#e1_0)" style="mix-blend-mode:lighten"/><rect x="356.00" y="6.00" width="242.00" height="243.00" fill="url(#e1_1)" style="mix-blend-mode:lighten"/><rect x="356.00" y="6.00" width="242.00" height="243.00" fill="url(#e1_2)" style="mix-blend-mode:lighten"/></g>
<g filter="url(#jet2)"><rect x="600.00" y="6.00" width="243.00" height="243.00" fill="#000"/><rect x="600.00" y="6.00" width="243.00" height="243.00" fill="url(#e2_0)" style="mix-blend-mode:lighten"/><rect x="600.00" y="6.00" width="243.00" height="243.00" fill="url(#e2_1)" style="mix-blend-mode:lighten"/><rect x="600.00" y="6.00" width="243.00" height="243.00" fill="url(#e2_2)" style="mix-blend-mode:lighten"/></g>
<g filter="url(#jet3)"><rect x="111.00" y="262.00" width="242.50" height="242.00" fill="#000"/><g filter="url(#dk3_0)" style="mix-blend-mode:lighten"><rect x="111.00" y="262.00" width="242.50" height="242.00" fill="#000"/><rect x="111.00" y="262.00" width="242.50" height="242.00" fill="url(#fx3_0)"/><rect x="111.00" y="262.00" width="242.50" height="242.00" fill="url(#qz3_0)" style="mix-blend-mode:lighten"/></g><g filter="url(#dk3_1)" style="mix-blend-mode:lighten"><rect x="111.00" y="262.00" width="242.50" height="242.00" fill="#000"/><rect x="111.00" y="262.00" width="242.50" height="242.00" fill="url(#fx3_1)"/><rect x="111.00" y="262.00" width="242.50" height="242.00" fill="url(#qz3_1)" style="mix-blend-mode:lighten"/></g><rect x="111.00" y="262.00" width="242.50" height="242.00" fill="url(#e3_2)" style="mix-blend-mode:lighten"/><rect x="111.00" y="262.00" width="242.50" height="242.00" fill="url(#e3_3)" style="mix-blend-mode:lighten"/></g>
<g filter="url(#jet4)"><rect x="356.00" y="262.00" width="242.00" height="242.00" fill="#000"/><g filter="url(#dk4_0)" style="mix-blend-mode:lighten"><rect x="356.00" y="262.00" width="242.00" height="242.00" fill="#000"/><rect x="356.00" y="262.00" width="242.00" height="242.00" fill="url(#fx4_0)"/><rect x="356.00" y="262.00" width="242.00" height="242.00" fill="url(#qz4_0)" style="mix-blend-mode:lighten"/></g><g filter="url(#dk4_1)" style="mix-blend-mode:lighten"><rect x="356.00" y="262.00" width="242.00" height="242.00" fill="#000"/><rect x="356.00" y="262.00" width="242.00" height="242.00" fill="url(#fx4_1)"/><rect x="356.00" y="262.00" width="242.00" height="242.00" fill="url(#qz4_1)" style="mix-blend-mode:lighten"/></g><rect x="356.00" y="262.00" width="242.00" height="242.00" fill="url(#e4_2)" style="mix-blend-mode:lighten"/><rect x="356.00" y="262.00" width="242.00" height="242.00" fill="url(#e4_3)" style="mix-blend-mode:lighten"/></g>
<g filter="url(#jet5)"><rect x="600.00" y="262.00" width="243.00" height="242.00" fill="#000"/><g filter="url(#dk5_0)" style="mix-blend-mode:lighten"><rect x="600.00" y="262.00" width="243.00" height="242.00" fill="#000"/><rect x="600.00" y="262.00" width="243.00" height="242.00" fill="url(#fx5_0)"/><rect x="600.00" y="262.00" width="243.00" height="242.00" fill="url(#qz5_0)" style="mix-blend-mode:lighten"/></g><g filter="url(#dk5_1)" style="mix-blend-mode:lighten"><rect x="600.00" y="262.00" width="243.00" height="242.00" fill="#000"/><rect x="600.00" y="262.00" width="243.00" height="242.00" fill="url(#fx5_1)"/><rect x="600.00" y="262.00" width="243.00" height="242.00" fill="url(#qz5_1)" style="mix-blend-mode:lighten"/></g><rect x="600.00" y="262.00" width="243.00" height="242.00" fill="url(#e5_2)" style="mix-blend-mode:lighten"/><rect x="600.00" y="262.00" width="243.00" height="242.00" fill="url(#e5_3)" style="mix-blend-mode:lighten"/></g>
<g filter="url(#jet6)"><rect x="111.00" y="518.00" width="242.50" height="242.00" fill="#000"/><g filter="url(#dk6_0)" style="mix-blend-mode:lighten"><rect x="111.00" y="518.00" width="242.50" height="242.00" fill="#000"/><rect x="111.00" y="518.00" width="242.50" height="242.00" fill="url(#fx6_0)"/><rect x="111.00" y="518.00" width="242.50" height="242.00" fill="url(#qz6_0)" style="mix-blend-mode:lighten"/></g><rect x="111.00" y="518.00" width="242.50" height="242.00" fill="url(#e6_1)" style="mix-blend-mode:lighten"/><rect x="111.00" y="518.00" width="242.50" height="242.00" fill="url(#e6_2)" style="mix-blend-mode:lighten"/></g>
<g filter="url(#jet7)"><rect x="356.00" y="518.00" width="242.00" height="242.00" fill="#000"/><g filter="url(#dk7_0)" style="mix-blend-mode:lighten"><rect x="356.00" y="518.00" width="242.00" height="242.00" fill="#000"/><rect x="356.00" y="518.00" width="242.00" height="242.00" fill="url(#fx7_0)"/><rect x="356.00" y="518.00" width="242.00" height="242.00" fill="url(#qz7_0)" style="mix-blend-mode:lighten"/></g><g filter="url(#dk7_1)" style="mix-blend-mode:lighten"><rect x="356.00" y="518.00" width="242.00" height="242.00" fill="#000"/><rect x="356.00" y="518.00" width="242.00" height="242.00" fill="url(#fx7_1)"/><rect x="356.00" y="518.00" width="242.00" height="242.00" fill="url(#qz7_1)" style="mix-blend-mode:lighten"/></g><rect x="356.00" y="518.00" width="242.00" height="242.00" fill="url(#e7_2)" style="mix-blend-mode:lighten"/><rect x="356.00" y="518.00" width="242.00" height="242.00" fill="url(#e7_3)" style="mix-blend-mode:lighten"/></g>
<g filter="url(#jet8)"><rect x="600.00" y="518.00" width="243.00" height="242.00" fill="#000"/><g filter="url(#dk8_0)" style="mix-blend-mode:lighten"><rect x="600.00" y="518.00" width="243.00" height="242.00" fill="#000"/><rect x="600.00" y="518.00" width="243.00" height="242.00" fill="url(#fx8_0)"/><rect x="600.00" y="518.00" width="243.00" height="242.00" fill="url(#qz8_0)" style="mix-blend-mode:lighten"/></g><g filter="url(#dk8_1)" style="mix-blend-mode:lighten"><rect x="600.00" y="518.00" width="243.00" height="242.00" fill="#000"/><rect x="600.00" y="518.00" width="243.00" height="242.00" fill="url(#fx8_1)"/><rect x="600.00" y="518.00" width="243.00" height="242.00" fill="url(#qz8_1)" style="mix-blend-mode:lighten"/></g><rect x="600.00" y="518.00" width="243.00" height="242.00" fill="url(#e8_2)" style="mix-blend-mode:lighten"/><rect x="600.00" y="518.00" width="243.00" height="242.00" fill="url(#e8_3)" style="mix-blend-mode:lighten"/></g>
<rect x="108.0" y="3.0" width="738.0" height="1.2" fill="#7c7c9c"/>
<rect x="109.0" y="4.2" width="736.0" height="1.8" fill="#e4e4f2"/>
<rect x="108.0" y="3.0" width="1.6" height="247.0" fill="#a6a6d2"/>
<rect x="109.6" y="4.2" width="1.4" height="245.8" fill="#e6e6f6"/>
<rect x="843.0" y="4.2" width="1" height="245.8" fill="#f4f4fa"/>
<rect x="844.0" y="3.0" width="2" height="247.0" fill="#a4a4cc"/>
<rect x="353.5" y="6.0" width="2.5" height="243.0" fill="#fff"/>
<rect x="598.0" y="6.0" width="2.0" height="243.0" fill="#fff"/>
<rect x="147.05" y="6.00" width="1.8" height="7.2" fill="#fff"/>
<rect x="147.05" y="241.80" width="1.8" height="7.2" fill="#fff"/>
<rect x="111.00" y="42.30" width="7.2" height="1.8" fill="#fff"/>
<rect x="346.30" y="42.30" width="7.2" height="1.8" fill="#fff"/>
<rect x="189.20" y="6.00" width="1.8" height="7.2" fill="#fff"/>
<rect x="189.20" y="241.80" width="1.8" height="7.2" fill="#fff"/>
<rect x="111.00" y="84.45" width="7.2" height="1.8" fill="#fff"/>
<rect x="346.30" y="84.45" width="7.2" height="1.8" fill="#fff"/>
<rect x="231.35" y="6.00" width="1.8" height="7.2" fill="#fff"/>
<rect x="231.35" y="241.80" width="1.8" height="7.2" fill="#fff"/>
<rect x="111.00" y="126.60" width="7.2" height="1.8" fill="#fff"/>
<rect x="346.30" y="126.60" width="7.2" height="1.8" fill="#fff"/>
<rect x="273.50" y="6.00" width="1.8" height="7.2" fill="#fff"/>
<rect x="273.50" y="241.80" width="1.8" height="7.2" fill="#fff"/>
<rect x="111.00" y="168.75" width="7.2" height="1.8" fill="#fff"/>
<rect x="346.30" y="168.75" width="7.2" height="1.8" fill="#fff"/>
<rect x="315.65" y="6.00" width="1.8" height="7.2" fill="#fff"/>
<rect x="315.65" y="241.80" width="1.8" height="7.2" fill="#fff"/>
<rect x="111.00" y="210.90" width="7.2" height="1.8" fill="#fff"/>
<rect x="346.30" y="210.90" width="7.2" height="1.8" fill="#fff"/>
<rect x="391.80" y="6.00" width="1.8" height="7.2" fill="#fff"/>
<rect x="391.80" y="241.80" width="1.8" height="7.2" fill="#fff"/>
<rect x="356.00" y="42.30" width="7.2" height="1.8" fill="#fff"/>
<rect x="590.80" y="42.30" width="7.2" height="1.8" fill="#fff"/>
<rect x="433.95" y="6.00" width="1.8" height="7.2" fill="#fff"/>
<rect x="433.95" y="241.80" width="1.8" height="7.2" fill="#fff"/>
<rect x="356.00" y="84.45" width="7.2" height="1.8" fill="#fff"/>
<rect x="590.80" y="84.45" width="7.2" height="1.8" fill="#fff"/>
<rect x="476.10" y="6.00" width="1.8" height="7.2" fill="#fff"/>
<rect x="476.10" y="241.80" width="1.8" height="7.2" fill="#fff"/>
<rect x="356.00" y="126.60" width="7.2" height="1.8" fill="#fff"/>
<rect x="590.80" y="126.60" width="7.2" height="1.8" fill="#fff"/>
<rect x="518.25" y="6.00" width="1.8" height="7.2" fill="#fff"/>
<rect x="518.25" y="241.80" width="1.8" height="7.2" fill="#fff"/>
<rect x="356.00" y="168.75" width="7.2" height="1.8" fill="#fff"/>
<rect x="590.80" y="168.75" width="7.2" height="1.8" fill="#fff"/>
<rect x="560.40" y="6.00" width="1.8" height="7.2" fill="#fff"/>
<rect x="560.40" y="241.80" width="1.8" height="7.2" fill="#fff"/>
<rect x="356.00" y="210.90" width="7.2" height="1.8" fill="#fff"/>
<rect x="590.80" y="210.90" width="7.2" height="1.8" fill="#fff"/>
<rect x="636.30" y="6.00" width="1.8" height="7.2" fill="#fff"/>
<rect x="636.30" y="241.80" width="1.8" height="7.2" fill="#fff"/>
<rect x="600.00" y="42.30" width="7.2" height="1.8" fill="#fff"/>
<rect x="835.80" y="42.30" width="7.2" height="1.8" fill="#fff"/>
<rect x="678.45" y="6.00" width="1.8" height="7.2" fill="#fff"/>
<rect x="678.45" y="241.80" width="1.8" height="7.2" fill="#fff"/>
<rect x="600.00" y="84.45" width="7.2" height="1.8" fill="#fff"/>
<rect x="835.80" y="84.45" width="7.2" height="1.8" fill="#fff"/>
<rect x="720.60" y="6.00" width="1.8" height="7.2" fill="#fff"/>
<rect x="720.60" y="241.80" width="1.8" height="7.2" fill="#fff"/>
<rect x="600.00" y="126.60" width="7.2" height="1.8" fill="#fff"/>
<rect x="835.80" y="126.60" width="7.2" height="1.8" fill="#fff"/>
<rect x="762.75" y="6.00" width="1.8" height="7.2" fill="#fff"/>
<rect x="762.75" y="241.80" width="1.8" height="7.2" fill="#fff"/>
<rect x="600.00" y="168.75" width="7.2" height="1.8" fill="#fff"/>
<rect x="835.80" y="168.75" width="7.2" height="1.8" fill="#fff"/>
<rect x="804.90" y="6.00" width="1.8" height="7.2" fill="#fff"/>
<rect x="804.90" y="241.80" width="1.8" height="7.2" fill="#fff"/>
<rect x="600.00" y="210.90" width="7.2" height="1.8" fill="#fff"/>
<rect x="835.80" y="210.90" width="7.2" height="1.8" fill="#fff"/>
<rect x="108.0" y="259.0" width="738.0" height="1.2" fill="#7c7c9c"/>
<rect x="109.0" y="260.2" width="736.0" height="1.8" fill="#e4e4f2"/>
<rect x="108.0" y="259.0" width="1.6" height="246.0" fill="#a6a6d2"/>
<rect x="109.6" y="260.2" width="1.4" height="244.8" fill="#e6e6f6"/>
<rect x="843.0" y="260.2" width="1" height="244.8" fill="#f4f4fa"/>
<rect x="844.0" y="259.0" width="2" height="246.0" fill="#a4a4cc"/>
<rect x="353.5" y="262.0" width="2.5" height="242.0" fill="#fff"/>
<rect x="598.0" y="262.0" width="2.0" height="242.0" fill="#fff"/>
<rect x="147.05" y="262.00" width="1.8" height="7.2" fill="#fff"/>
<rect x="147.05" y="496.80" width="1.8" height="7.2" fill="#fff"/>
<rect x="111.00" y="297.80" width="7.2" height="1.8" fill="#fff"/>
<rect x="346.30" y="297.80" width="7.2" height="1.8" fill="#fff"/>
<rect x="189.20" y="262.00" width="1.8" height="7.2" fill="#fff"/>
<rect x="189.20" y="496.80" width="1.8" height="7.2" fill="#fff"/>
<rect x="111.00" y="339.95" width="7.2" height="1.8" fill="#fff"/>
<rect x="346.30" y="339.95" width="7.2" height="1.8" fill="#fff"/>
<rect x="231.35" y="262.00" width="1.8" height="7.2" fill="#fff"/>
<rect x="231.35" y="496.80" width="1.8" height="7.2" fill="#fff"/>
<rect x="111.00" y="382.10" width="7.2" height="1.8" fill="#fff"/>
<rect x="346.30" y="382.10" width="7.2" height="1.8" fill="#fff"/>
<rect x="273.50" y="262.00" width="1.8" height="7.2" fill="#fff"/>
<rect x="273.50" y="496.80" width="1.8" height="7.2" fill="#fff"/>
<rect x="111.00" y="424.25" width="7.2" height="1.8" fill="#fff"/>
<rect x="346.30" y="424.25" width="7.2" height="1.8" fill="#fff"/>
<rect x="315.65" y="262.00" width="1.8" height="7.2" fill="#fff"/>
<rect x="315.65" y="496.80" width="1.8" height="7.2" fill="#fff"/>
<rect x="111.00" y="466.40" width="7.2" height="1.8" fill="#fff"/>
<rect x="346.30" y="466.40" width="7.2" height="1.8" fill="#fff"/>
<rect x="391.80" y="262.00" width="1.8" height="7.2" fill="#fff"/>
<rect x="391.80" y="496.80" width="1.8" height="7.2" fill="#fff"/>
<rect x="356.00" y="297.80" width="7.2" height="1.8" fill="#fff"/>
<rect x="590.80" y="297.80" width="7.2" height="1.8" fill="#fff"/>
<rect x="433.95" y="262.00" width="1.8" height="7.2" fill="#fff"/>
<rect x="433.95" y="496.80" width="1.8" height="7.2" fill="#fff"/>
<rect x="356.00" y="339.95" width="7.2" height="1.8" fill="#fff"/>
<rect x="590.80" y="339.95" width="7.2" height="1.8" fill="#fff"/>
<rect x="476.10" y="262.00" width="1.8" height="7.2" fill="#fff"/>
<rect x="476.10" y="496.80" width="1.8" height="7.2" fill="#fff"/>
<rect x="356.00" y="382.10" width="7.2" height="1.8" fill="#fff"/>
<rect x="590.80" y="382.10" width="7.2" height="1.8" fill="#fff"/>
<rect x="518.25" y="262.00" width="1.8" height="7.2" fill="#fff"/>
<rect x="518.25" y="496.80" width="1.8" height="7.2" fill="#fff"/>
<rect x="356.00" y="424.25" width="7.2" height="1.8" fill="#fff"/>
<rect x="590.80" y="424.25" width="7.2" height="1.8" fill="#fff"/>
<rect x="560.40" y="262.00" width="1.8" height="7.2" fill="#fff"/>
<rect x="560.40" y="496.80" width="1.8" height="7.2" fill="#fff"/>
<rect x="356.00" y="466.40" width="7.2" height="1.8" fill="#fff"/>
<rect x="590.80" y="466.40" width="7.2" height="1.8" fill="#fff"/>
<rect x="636.30" y="262.00" width="1.8" height="7.2" fill="#fff"/>
<rect x="636.30" y="496.80" width="1.8" height="7.2" fill="#fff"/>
<rect x="600.00" y="297.80" width="7.2" height="1.8" fill="#fff"/>
<rect x="835.80" y="297.80" width="7.2" height="1.8" fill="#fff"/>
<rect x="678.45" y="262.00" width="1.8" height="7.2" fill="#fff"/>
<rect x="678.45" y="496.80" width="1.8" height="7.2" fill="#fff"/>
<rect x="600.00" y="339.95" width="7.2" height="1.8" fill="#fff"/>
<rect x="835.80" y="339.95" width="7.2" height="1.8" fill="#fff"/>
<rect x="720.60" y="262.00" width="1.8" height="7.2" fill="#fff"/>
<rect x="720.60" y="496.80" width="1.8" height="7.2" fill="#fff"/>
<rect x="600.00" y="382.10" width="7.2" height="1.8" fill="#fff"/>
<rect x="835.80" y="382.10" width="7.2" height="1.8" fill="#fff"/>
<rect x="762.75" y="262.00" width="1.8" height="7.2" fill="#fff"/>
<rect x="762.75" y="496.80" width="1.8" height="7.2" fill="#fff"/>
<rect x="600.00" y="424.25" width="7.2" height="1.8" fill="#fff"/>
<rect x="835.80" y="424.25" width="7.2" height="1.8" fill="#fff"/>
<rect x="804.90" y="262.00" width="1.8" height="7.2" fill="#fff"/>
<rect x="804.90" y="496.80" width="1.8" height="7.2" fill="#fff"/>
<rect x="600.00" y="466.40" width="7.2" height="1.8" fill="#fff"/>
<rect x="835.80" y="466.40" width="7.2" height="1.8" fill="#fff"/>
<rect x="108.0" y="515.0" width="738.0" height="1.2" fill="#7c7c9c"/>
<rect x="109.0" y="516.2" width="736.0" height="1.8" fill="#e4e4f2"/>
<rect x="108.0" y="515.0" width="1.6" height="246.0" fill="#a6a6d2"/>
<rect x="109.6" y="516.2" width="1.4" height="244.8" fill="#e6e6f6"/>
<rect x="843.0" y="516.2" width="1" height="244.8" fill="#f4f4fa"/>
<rect x="844.0" y="515.0" width="2" height="246.0" fill="#a4a4cc"/>
<rect x="353.5" y="518.0" width="2.5" height="242.0" fill="#fff"/>
<rect x="598.0" y="518.0" width="2.0" height="242.0" fill="#fff"/>
<rect x="110.0" y="762.0" width="734.0" height="1.2" fill="#2a2a70"/>
<rect x="147.05" y="518.00" width="1.8" height="7.2" fill="#fff"/>
<rect x="147.05" y="752.80" width="1.8" height="7.2" fill="#fff"/>
<rect x="111.00" y="553.80" width="7.2" height="1.8" fill="#fff"/>
<rect x="346.30" y="553.80" width="7.2" height="1.8" fill="#fff"/>
<rect x="189.20" y="518.00" width="1.8" height="7.2" fill="#fff"/>
<rect x="189.20" y="752.80" width="1.8" height="7.2" fill="#fff"/>
<rect x="111.00" y="595.95" width="7.2" height="1.8" fill="#fff"/>
<rect x="346.30" y="595.95" width="7.2" height="1.8" fill="#fff"/>
<rect x="231.35" y="518.00" width="1.8" height="7.2" fill="#fff"/>
<rect x="231.35" y="752.80" width="1.8" height="7.2" fill="#fff"/>
<rect x="111.00" y="638.10" width="7.2" height="1.8" fill="#fff"/>
<rect x="346.30" y="638.10" width="7.2" height="1.8" fill="#fff"/>
<rect x="273.50" y="518.00" width="1.8" height="7.2" fill="#fff"/>
<rect x="273.50" y="752.80" width="1.8" height="7.2" fill="#fff"/>
<rect x="111.00" y="680.25" width="7.2" height="1.8" fill="#fff"/>
<rect x="346.30" y="680.25" width="7.2" height="1.8" fill="#fff"/>
<rect x="315.65" y="518.00" width="1.8" height="7.2" fill="#fff"/>
<rect x="315.65" y="752.80" width="1.8" height="7.2" fill="#fff"/>
<rect x="111.00" y="722.40" width="7.2" height="1.8" fill="#fff"/>
<rect x="346.30" y="722.40" width="7.2" height="1.8" fill="#fff"/>
<rect x="391.80" y="518.00" width="1.8" height="7.2" fill="#fff"/>
<rect x="391.80" y="752.80" width="1.8" height="7.2" fill="#fff"/>
<rect x="356.00" y="553.80" width="7.2" height="1.8" fill="#fff"/>
<rect x="590.80" y="553.80" width="7.2" height="1.8" fill="#fff"/>
<rect x="433.95" y="518.00" width="1.8" height="7.2" fill="#fff"/>
<rect x="433.95" y="752.80" width="1.8" height="7.2" fill="#fff"/>
<rect x="356.00" y="595.95" width="7.2" height="1.8" fill="#fff"/>
<rect x="590.80" y="595.95" width="7.2" height="1.8" fill="#fff"/>
<rect x="476.10" y="518.00" width="1.8" height="7.2" fill="#fff"/>
<rect x="476.10" y="752.80" width="1.8" height="7.2" fill="#fff"/>
<rect x="356.00" y="638.10" width="7.2" height="1.8" fill="#fff"/>
<rect x="590.80" y="638.10" width="7.2" height="1.8" fill="#fff"/>
<rect x="518.25" y="518.00" width="1.8" height="7.2" fill="#fff"/>
<rect x="518.25" y="752.80" width="1.8" height="7.2" fill="#fff"/>
<rect x="356.00" y="680.25" width="7.2" height="1.8" fill="#fff"/>
<rect x="590.80" y="680.25" width="7.2" height="1.8" fill="#fff"/>
<rect x="560.40" y="518.00" width="1.8" height="7.2" fill="#fff"/>
<rect x="560.40" y="752.80" width="1.8" height="7.2" fill="#fff"/>
<rect x="356.00" y="722.40" width="7.2" height="1.8" fill="#fff"/>
<rect x="590.80" y="722.40" width="7.2" height="1.8" fill="#fff"/>
<rect x="636.30" y="518.00" width="1.8" height="7.2" fill="#fff"/>
<rect x="636.30" y="752.80" width="1.8" height="7.2" fill="#fff"/>
<rect x="600.00" y="553.80" width="7.2" height="1.8" fill="#fff"/>
<rect x="835.80" y="553.80" width="7.2" height="1.8" fill="#fff"/>
<rect x="678.45" y="518.00" width="1.8" height="7.2" fill="#fff"/>
<rect x="678.45" y="752.80" width="1.8" height="7.2" fill="#fff"/>
<rect x="600.00" y="595.95" width="7.2" height="1.8" fill="#fff"/>
<rect x="835.80" y="595.95" width="7.2" height="1.8" fill="#fff"/>
<rect x="720.60" y="518.00" width="1.8" height="7.2" fill="#fff"/>
<rect x="720.60" y="752.80" width="1.8" height="7.2" fill="#fff"/>
<rect x="600.00" y="638.10" width="7.2" height="1.8" fill="#fff"/>
<rect x="835.80" y="638.10" width="7.2" height="1.8" fill="#fff"/>
<rect x="762.75" y="518.00" width="1.8" height="7.2" fill="#fff"/>
<rect x="762.75" y="752.80" width="1.8" height="7.2" fill="#fff"/>
<rect x="600.00" y="680.25" width="7.2" height="1.8" fill="#fff"/>
<rect x="835.80" y="680.25" width="7.2" height="1.8" fill="#fff"/>
<rect x="804.90" y="518.00" width="1.8" height="7.2" fill="#fff"/>
<rect x="804.90" y="752.80" width="1.8" height="7.2" fill="#fff"/>
<rect x="600.00" y="722.40" width="7.2" height="1.8" fill="#fff"/>
<rect x="835.80" y="722.40" width="7.2" height="1.8" fill="#fff"/>
<rect x="34.95" y="175.65" width="10.4" height="440.7" fill="url(#cb)" stroke="#999" stroke-width="1.3"/>
<rect x="36.25" y="176.95" width="7.8" height="438.1" fill="none" stroke="#fff" stroke-opacity="0.5" stroke-width="1.3"/>
<rect x="36.9" y="231.59" width="6.5" height="1.6" fill="#fff" opacity="0.35"/>
<rect x="36.9" y="230.79" width="6.5" height="0.8" fill="#000" opacity="0.15"/>
<rect x="36.9" y="286.18" width="6.5" height="1.6" fill="#fff" opacity="0.35"/>
<rect x="36.9" y="285.38" width="6.5" height="0.8" fill="#000" opacity="0.15"/>
<rect x="36.9" y="340.76" width="6.5" height="1.6" fill="#fff" opacity="0.35"/>
<rect x="36.9" y="339.96" width="6.5" height="0.8" fill="#000" opacity="0.15"/>
<rect x="36.9" y="395.35" width="6.5" height="1.6" fill="#fff" opacity="0.35"/>
<rect x="36.9" y="394.55" width="6.5" height="0.8" fill="#000" opacity="0.15"/>
<rect x="36.9" y="449.94" width="6.5" height="1.6" fill="#fff" opacity="0.35"/>
<rect x="36.9" y="449.14" width="6.5" height="0.8" fill="#000" opacity="0.15"/>
<rect x="36.9" y="504.52" width="6.5" height="1.6" fill="#fff" opacity="0.35"/>
<rect x="36.9" y="503.72" width="6.5" height="0.8" fill="#000" opacity="0.15"/>
<rect x="36.9" y="559.11" width="6.5" height="1.6" fill="#fff" opacity="0.35"/>
<rect x="36.9" y="558.31" width="6.5" height="0.8" fill="#000" opacity="0.15"/>
<text x="232.55" y="34.70" class="t">Age &gt; 10 Gyr</text>
<text x="477.30" y="34.70" class="t" word-spacing="0.6">8 Gyr &lt; Age &lt; 10 Gyr</text>
<text x="721.80" y="34.70" class="t" word-spacing="0.6">6 Gyr &lt; Age &lt; 8 Gyr</text>
<text x="232.55" y="290.70" class="t" word-spacing="0.6">5 Gyr &lt; Age &lt; 6 Gyr</text>
<text x="477.30" y="290.70" class="t" word-spacing="0.6">4 Gyr &lt; Age &lt; 5 Gyr</text>
<text x="721.80" y="290.70" class="t" word-spacing="0.6">3 Gyr &lt; Age &lt; 4 Gyr</text>
<text x="232.55" y="546.70" class="t" word-spacing="0.6">2 Gyr &lt; Age &lt; 3 Gyr</text>
<text x="477.30" y="546.70" class="t" word-spacing="0.6">1 Gyr &lt; Age &lt; 2 Gyr</text>
<text x="721.80" y="546.70" class="t" word-spacing="0.6">Age &lt; 1 Gyr</text>
<text x="140.35" y="786.5" class="tk">−10</text>
<text x="185.85" y="786.5" class="tk">−5</text>
<text x="232.45" y="786.5" class="tk">0</text>
<text x="275.30" y="786.5" class="tk">5</text>
<text x="315.05" y="786.5" class="tk">10</text>
<text x="232.75" y="819.8" class="xl">x [kpc]</text>
<text x="385.10" y="786.5" class="tk">−10</text>
<text x="430.60" y="786.5" class="tk">−5</text>
<text x="477.20" y="786.5" class="tk">0</text>
<text x="520.05" y="786.5" class="tk">5</text>
<text x="559.80" y="786.5" class="tk">10</text>
<text x="477.50" y="819.8" class="xl">x [kpc]</text>
<text x="629.60" y="786.5" class="tk">−10</text>
<text x="675.10" y="786.5" class="tk">−5</text>
<text x="721.70" y="786.5" class="tk">0</text>
<text x="764.55" y="786.5" class="tk">5</text>
<text x="804.30" y="786.5" class="tk">10</text>
<text x="722.00" y="819.8" class="xl">x [kpc]</text>
<text x="51.5" y="184.60" class="cb">9.0</text>
<text x="51.5" y="239.19" class="cb">8.5</text>
<text x="51.5" y="293.78" class="cb">8.0</text>
<text x="51.5" y="348.36" class="cb">7.5</text>
<text x="51.5" y="402.95" class="cb">7.0</text>
<text x="51.5" y="457.54" class="cb">6.5</text>
<text x="51.5" y="512.12" class="cb">6.0</text>
<text x="51.5" y="566.71" class="cb">5.5</text>
<text x="51.5" y="621.30" class="cb">5.0</text>
<text transform="translate(22.8 623.5) rotate(-90)" class="yl">log<tspan font-size="14" dy="6">10</tspan><tspan dy="-6">(Stellar Surface Density [M</tspan><tspan font-size="17" dy="6.5">⊙</tspan><tspan dy="-6.5"> kpc</tspan><tspan font-size="14" dy="-10">−2</tspan><tspan dy="10">])</tspan></text>
</svg>
</body></html>
